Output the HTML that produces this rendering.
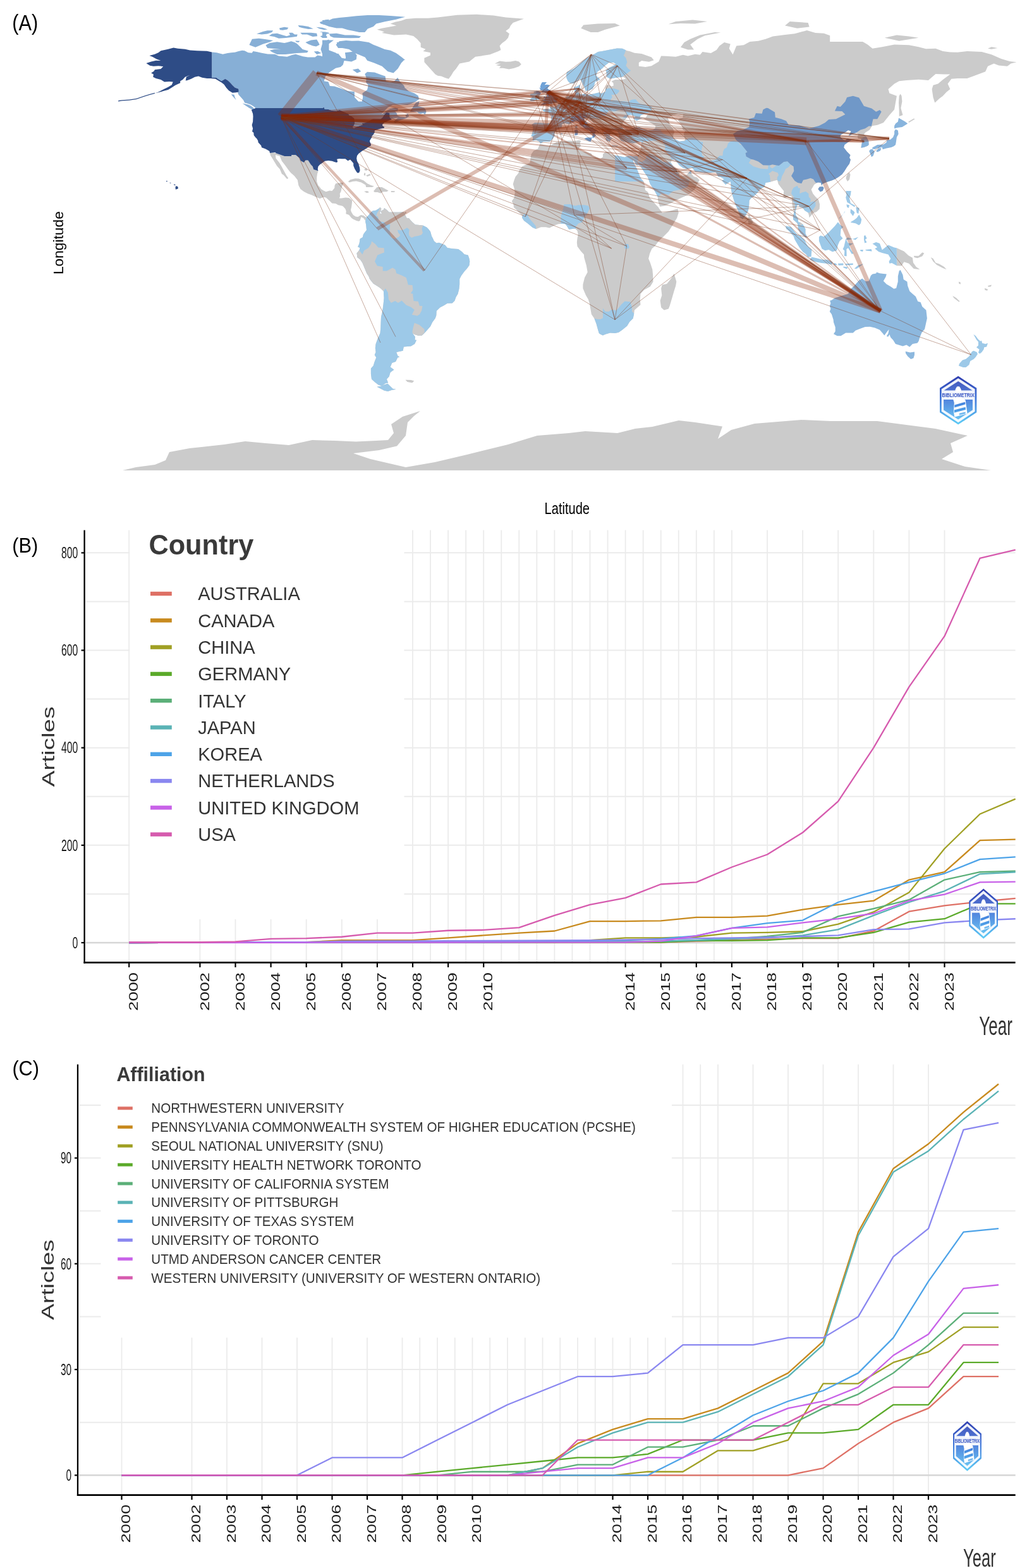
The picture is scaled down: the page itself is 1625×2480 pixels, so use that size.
<!DOCTYPE html><html><head><meta charset="utf-8"><style>html,body{margin:0;padding:0;background:#fff;overflow:hidden;width:1625px;height:2480px;}svg{display:block;}</style></head><body><svg width="1625" height="2480" viewBox="0 0 1625 2480" font-family="Liberation Sans, Arial, Helvetica, sans-serif">
<rect width="1625" height="2480" fill="#fff"/>
<g id="map">
<path d="M427.0,241.9 L428.2,246.2 L431.3,250.9 L433.2,254.3 L438.2,262.5 L442.8,267.6 L445.9,274.9 L448.9,277.0 L453.5,282.6 L454.7,283.0 L456.2,281.7 L453.2,277.5 L449.3,270.2 L445.1,262.5 L442.0,257.3 L436.6,250.4 L435.9,244.9 L442.8,247.0 L445.9,254.7 L451.2,261.6 L456.2,268.5 L460.1,273.2 L465.8,278.3 L470.8,284.7 L472.4,293.3 L475.4,298.9 L481.2,303.2 L487.0,306.2 L492.7,308.3 L500.4,311.8 L506.2,313.9 L512.0,311.8 L515.8,312.6 L521.6,317.8 L525.4,321.6 L531.2,322.0 L535.0,324.2 L540.8,325.5 L542.7,326.3 L546.5,330.6 L547.7,334.0 L547.3,338.3 L550.4,339.2 L552.3,340.0 L556.1,344.8 L558.5,346.5 L563.8,349.0 L567.7,349.9 L569.6,349.0 L571.5,343.0 L575.4,345.2 L578.1,349.0 L580.4,347.3 L579.6,343.9 L575.4,340.9 L571.1,340.0 L566.5,343.0 L562.7,342.6 L558.8,340.0 L555.8,334.9 L555.0,331.9 L556.1,327.6 L556.9,321.2 L557.3,316.9 L552.3,313.0 L546.5,312.6 L540.8,313.5 L536.9,313.5 L538.1,310.5 L537.7,306.2 L539.6,302.7 L540.8,296.3 L542.7,291.2 L543.5,289.0 L538.9,289.0 L531.2,290.3 L529.6,293.3 L529.2,297.6 L525.4,301.9 L521.6,301.5 L515.8,303.2 L512.0,301.5 L508.1,298.9 L506.2,296.3 L503.5,293.3 L501.2,286.9 L501.2,280.5 L502.0,274.9 L503.5,270.2 L496.2,268.0 L494.7,263.3 L491.6,259.9 L487.4,253.4 L483.5,253.4 L480.8,256.9 L475.8,254.3 L473.9,250.0 L467.8,244.9 L461.2,244.9 L461.2,247.0 L450.1,247.0 L435.9,241.9Z M709.9,124.8 L713.7,119.7 L717.6,113.3 L721.4,109.0 L727.2,100.4 L734.8,99.1 L742.5,97.4 L752.1,89.7 L761.8,88.4 L775.2,86.3 L788.7,81.1 L792.5,79.0 L790.6,72.5 L794.4,68.2 L800.2,64.0 L804.0,59.7 L805.9,53.2 L800.2,49.0 L805.9,44.7 L807.9,40.4 L811.7,36.1 L823.2,31.8 L829.0,29.7 L800.2,27.5 L781.0,24.5 L754.1,22.8 L723.3,23.7 L692.6,27.5 L677.2,28.8 L658.0,28.8 L642.6,30.1 L634.9,32.7 L625.3,34.8 L617.6,37.4 L627.2,40.4 L604.2,44.7 L596.5,46.8 L608.0,50.2 L604.2,52.0 L623.4,55.4 L642.6,54.5 L654.1,57.1 L659.9,61.8 L665.7,68.2 L665.7,74.7 L673.4,77.7 L669.5,81.1 L681.0,83.3 L681.0,87.5 L671.4,91.8 L671.4,98.3 L677.2,104.7 L681.0,109.0 L684.9,113.3 L688.7,117.5 L692.6,119.7 L698.3,120.6 L704.1,123.1Z M782.9,100.4 L790.6,96.5 L800.2,97.8 L807.9,97.4 L815.6,96.1 L821.3,97.4 L824.8,101.7 L821.3,105.1 L813.6,107.7 L805.2,109.4 L796.3,107.7 L789.8,107.7 L792.5,104.7 L784.8,103.0 L792.5,100.8Z M579.6,343.9 L583.1,340.5 L586.5,336.2 L589.6,333.6 L594.6,332.8 L599.6,329.8 L601.5,327.8 L603.4,330.6 L601.9,334.0 L600.7,337.5 L604.2,338.3 L602.3,334.0 L607.3,331.5 L608.0,328.9 L611.9,331.9 L615.7,335.8 L623.4,335.8 L631.1,335.8 L638.8,335.3 L640.7,339.2 L643.4,344.8 L647.2,345.6 L652.2,351.2 L657.2,355.5 L663.8,355.9 L669.5,356.8 L675.3,359.8 L678.7,363.2 L681.0,366.2 L683.0,373.5 L684.9,376.9 L686.8,381.2 L690.7,384.6 L694.5,383.8 L704.1,387.6 L707.9,391.9 L715.6,393.2 L725.2,394.1 L731.0,398.3 L734.8,402.2 L740.6,403.5 L742.5,409.1 L743.3,413.4 L742.5,419.8 L738.7,424.9 L734.8,429.2 L729.9,436.1 L727.2,441.2 L727.2,449.8 L726.4,457.1 L724.5,464.8 L721.4,469.9 L719.5,475.5 L715.6,479.4 L707.9,479.8 L702.2,483.2 L696.4,486.2 L690.7,491.8 L690.3,499.1 L688.7,503.4 L684.1,509.8 L681.0,516.2 L675.3,522.7 L671.4,527.0 L667.6,530.4 L661.8,530.8 L656.1,529.1 L652.6,527.0 L656.8,532.5 L656.5,537.7 L659.1,537.7 L656.1,544.1 L650.3,547.5 L638.8,548.4 L637.6,554.8 L627.2,557.0 L629.2,562.5 L632.2,564.7 L629.2,565.5 L626.1,572.0 L620.3,574.1 L617.6,580.5 L623.4,584.8 L617.6,589.1 L615.7,595.5 L611.9,599.8 L614.2,605.4 L610.0,606.3 L604.2,610.6 L598.4,608.4 L592.7,604.1 L588.0,599.8 L586.9,591.3 L586.9,582.7 L590.7,578.4 L592.7,572.0 L595.3,565.5 L592.7,561.3 L594.6,557.0 L593.8,550.5 L594.6,544.1 L597.7,535.5 L601.5,527.0 L602.3,518.4 L602.6,509.8 L603.0,501.2 L605.0,492.7 L606.5,481.9 L607.6,471.2 L606.9,460.5 L602.6,456.2 L598.4,453.2 L590.7,448.5 L585.0,441.2 L583.4,436.9 L580.4,432.6 L576.9,424.1 L573.4,415.5 L570.0,410.4 L565.4,406.9 L564.6,400.5 L568.4,395.8 L569.6,391.9 L566.1,390.6 L568.4,385.5 L569.2,381.2 L569.6,377.8 L573.8,375.2 L575.0,370.5 L578.1,366.2 L580.0,364.1 L579.2,355.5 L578.1,350.3Z M613.4,606.7 L621.5,614.8 L626.5,615.7 L619.6,617.0 L613.8,619.1 L608.0,617.8 L602.3,614.8 L596.5,611.8 L604.2,610.6 L608.0,608.4Z M641.5,600.7 L650.3,601.1 L655.3,602.4 L652.2,605.4 L644.5,604.1Z M550.8,287.3 L554.2,284.3 L561.9,282.2 L567.7,282.6 L575.4,285.6 L581.1,290.3 L586.9,292.9 L591.9,294.6 L588.8,295.9 L579.2,295.9 L578.4,292.5 L571.5,288.6 L563.8,286.5 L558.1,286.9 L553.1,288.6Z M591.1,302.3 L596.5,295.9 L604.2,295.9 L610.0,298.9 L614.6,301.5 L611.9,303.2 L606.1,303.2 L602.3,305.7 L597.3,304.0 L592.7,304.0Z M576.1,302.7 L581.1,301.9 L584.2,304.0 L580.4,305.3Z M618.8,301.9 L624.9,302.3 L624.2,304.0 L618.8,304.0Z M577.3,266.3 L581.1,267.2 L580.4,270.2 L576.5,268.9Z M576.5,273.2 L578.4,274.0 L577.7,278.3 L575.7,276.6Z M579.2,277.5 L585.0,274.9 L586.9,277.0 L581.1,279.2Z M640.7,334.9 L643.0,334.9 L642.6,337.9 L639.2,337.9Z" fill="#CBCBCB" />
<path d="M335.2,82.6 L342.9,83.3 L352.5,85.8 L360.2,84.1 L365.9,83.3 L371.7,82.8 L377.5,81.1 L383.2,79.8 L387.1,80.3 L392.8,83.3 L398.6,83.7 L400.5,81.1 L406.3,82.0 L414.0,83.7 L423.6,85.4 L435.1,85.8 L440.9,88.4 L454.3,89.7 L462.0,87.1 L467.8,85.8 L473.5,87.5 L479.3,89.3 L487.0,90.5 L498.5,90.5 L502.3,87.5 L508.1,88.4 L510.0,89.3 L515.8,86.3 L513.9,79.0 L508.9,73.4 L513.9,72.5 L519.6,76.8 L521.6,81.1 L525.4,83.3 L529.2,87.5 L535.0,84.5 L540.8,91.8 L546.5,92.7 L550.4,83.3 L560.0,83.3 L564.6,87.1 L563.8,94.0 L556.1,97.4 L544.6,96.1 L542.7,102.5 L538.9,106.0 L531.2,107.7 L521.6,114.1 L515.0,120.6 L512.7,128.3 L519.6,129.6 L521.9,136.0 L529.2,136.4 L538.9,139.8 L550.4,144.1 L560.8,145.0 L561.1,154.0 L567.3,160.4 L572.7,160.4 L574.2,154.0 L573.4,147.6 L581.1,142.0 L582.7,134.7 L579.2,130.4 L579.6,123.1 L577.3,117.1 L581.1,113.7 L592.7,114.5 L604.2,118.8 L609.6,120.6 L610.7,128.3 L615.7,130.0 L623.4,129.1 L629.2,122.7 L633.0,129.6 L638.8,134.7 L640.7,139.0 L646.5,144.1 L655.7,147.6 L661.8,151.4 L663.0,157.0 L657.6,160.8 L650.3,164.3 L644.5,166.0 L634.9,165.6 L621.5,166.0 L613.8,169.9 L609.2,174.6 L603.4,180.6 L606.9,178.9 L611.9,175.0 L617.6,172.0 L625.3,170.3 L629.9,171.6 L629.2,175.4 L625.3,176.3 L628.0,179.7 L628.8,182.7 L633.0,184.4 L638.8,184.9 L642.6,185.7 L641.5,181.9 L645.3,179.7 L647.2,184.0 L642.6,187.0 L636.9,189.1 L631.1,190.9 L625.3,194.7 L623.0,192.6 L627.2,188.3 L629.9,186.6 L625.3,187.0 L621.5,187.4 L619.2,187.9 L616.5,185.3 L616.5,179.3 L614.6,178.2 L611.1,177.8 L607.3,182.3 L605.7,185.3 L603.8,187.0 L602.3,188.3 L590.0,188.3 L587.7,189.1 L583.4,191.7 L577.3,194.3 L572.7,195.1 L573.8,197.3 L570.4,198.6 L565.0,200.3 L560.0,202.4 L557.7,200.7 L560.0,198.6 L561.5,194.3 L560.4,187.0 L555.8,183.6 L553.8,183.1 L552.3,181.9 L551.2,180.1 L537.3,174.1 L532.7,175.4 L525.4,175.0 L519.6,172.9 L513.5,172.4 L512.7,169.9 L511.4,169.5 L511.2,171.1 L404.4,171.1 L403.6,169.9 L400.5,167.7 L396.7,165.6 L390.9,163.4 L387.1,162.6 L385.1,158.3 L381.3,154.0 L377.5,149.7 L376.3,146.7 L377.5,141.6 L377.5,140.7 L371.7,138.6 L367.8,134.7 L364.0,130.4 L360.2,127.0 L356.3,124.8 L350.5,128.3 L344.8,124.8 L342.1,122.7 L335.2,122.7Z M403.2,174.1 L398.6,172.9 L394.7,171.1 L389.0,167.3 L383.6,163.4 L387.1,164.3 L392.8,165.6 L396.7,167.3 L400.5,169.9Z M373.6,158.3 L367.8,151.8 L365.9,149.3 L370.5,149.7 L371.7,154.0Z M648.8,177.1 L650.3,173.3 L652.6,170.7 L654.5,167.3 L658.0,162.6 L663.4,160.0 L662.6,164.7 L661.1,167.7 L665.7,169.0 L671.4,170.7 L673.4,173.3 L674.5,177.1 L672.6,181.0 L669.5,178.9 L665.7,180.1 L662.6,179.3 L659.9,176.7 L654.1,177.1Z M394.4,71.1 L398.9,61.7 L409.6,60.8 L419.5,62.1 L432.1,63.9 L426.7,66.6 L415.9,69.8 L409.6,72.5 L404.2,74.7 L398.0,72.5Z M420.4,71.6 L426.7,68.0 L438.4,66.2 L450.0,68.0 L454.5,67.1 L460.8,65.3 L466.2,67.1 L469.8,68.9 L475.2,74.3 L478.8,77.9 L487.8,80.6 L486.0,83.2 L469.8,84.1 L460.8,85.0 L451.8,85.9 L438.4,85.9 L430.3,82.3 L426.7,79.7 L433.9,77.9 L444.7,78.3 L433.9,77.0 L423.1,76.1Z M406.0,53.6 L415.9,50.0 L423.1,48.2 L432.1,48.2 L430.3,50.9 L423.1,53.6 L414.1,54.5Z M425.8,56.8 L430.3,53.6 L438.4,52.7 L447.3,55.4 L453.6,57.2 L459.0,55.4 L457.2,51.8 L462.6,51.8 L466.2,54.5 L470.7,54.5 L469.8,57.7 L460.8,59.0 L451.8,59.9 L441.1,60.8 L433.9,58.1Z M442.0,44.6 L450.0,42.8 L456.3,43.7 L454.5,46.4 L447.3,47.8 L442.9,47.3Z M471.6,40.1 L478.8,40.6 L487.8,41.9 L495.8,45.5 L487.8,46.0 L478.8,44.2 L473.4,42.8Z M475.2,51.8 L483.3,51.8 L492.2,51.8 L501.2,52.7 L502.1,57.2 L494.9,58.1 L486.0,54.5 L477.9,54.5Z M483.3,67.1 L492.2,63.5 L501.2,62.6 L503.9,67.1 L505.7,70.7 L500.3,73.4 L494.9,72.5 L487.8,69.8Z M500.3,42.8 L510.2,43.7 L518.3,46.4 L512.9,47.3 L505.7,45.5Z M505.7,50.0 L514.7,50.5 L520.5,51.8 L520.5,53.6 L512.9,52.7Z M506.6,57.2 L512.9,55.4 L517.4,57.2 L517.4,59.9 L510.2,59.9Z M505.7,35.2 L514.7,31.2 L520.5,30.7 L520.5,39.2 L512.9,39.2 L507.5,37.4Z M507.5,77.9 L511.1,65.3 L520.5,62.6 L520.5,86.8 L510.2,85.9Z M467.1,64.4 L474.3,64.8 L472.5,67.1 L468.9,66.6Z M496.7,81.5 L503.0,81.0 L508.4,84.1 L501.2,85.9Z M526.2,29.4 L536.9,28.0 L550.4,26.7 L563.9,25.3 L581.8,24.0 L599.8,24.0 L617.8,24.9 L641.1,26.7 L626.7,30.7 L608.8,34.3 L595.3,37.4 L590.8,41.9 L581.8,45.5 L577.3,50.9 L568.4,50.9 L559.4,49.1 L550.4,47.3 L541.4,44.6 L532.4,44.6 L520.8,41.9 L513.6,39.2 L510.0,34.8 L510.0,32.1 L515.4,31.6 L520.8,32.1Z M520.8,53.6 L532.4,52.7 L545.9,55.4 L559.4,55.4 L571.1,57.2 L568.4,59.9 L554.9,60.3 L541.4,59.9 L528.0,59.5 L522.6,57.2Z M510.0,50.9 L517.2,52.7 L515.4,58.1 L510.0,59.0Z M531.6,70.7 L536.9,65.3 L547.7,63.9 L556.7,64.8 L567.5,64.4 L583.6,67.1 L590.8,70.7 L599.8,74.3 L608.8,77.9 L617.8,79.7 L626.7,84.1 L635.7,90.4 L641.1,95.0 L599.8,95.0 L595.3,90.4 L586.3,86.8 L572.9,79.7 L560.3,77.9 L550.4,77.0 L544.1,76.1 L535.1,76.1Z M510.0,63.5 L528.0,63.5 L520.8,68.9 L515.4,72.5 L510.0,72.5Z M510.0,76.1 L523.5,80.6 L530.7,83.2 L536.9,86.8 L539.6,95.0 L510.0,95.0Z M545.9,83.2 L560.3,81.5 L563.9,86.8 L560.3,95.0 L547.7,95.0Z M580.0,87.7 L587.2,86.8 L588.1,91.3 L580.9,92.2Z M532.7,67.1 L547.0,64.4 L559.6,65.3 L568.6,68.9 L586.5,72.5 L604.5,77.9 L618.9,83.2 L640.4,94.0 L635.0,99.4 L629.6,108.4 L622.5,115.6 L613.5,112.9 L604.5,104.8 L591.9,99.4 L581.1,95.8 L577.6,90.4 L568.6,86.8 L559.6,83.2 L552.4,77.9 L541.6,76.1 L534.5,72.5Z M557.8,110.2 L566.8,108.4 L571.3,112.9 L565.0,115.6Z" fill="#87AFD6" />
<path d="M579.6,343.9 L583.1,340.5 L586.5,336.2 L589.6,333.6 L594.6,332.8 L599.6,329.8 L601.5,327.8 L603.4,330.6 L601.9,334.0 L600.7,337.5 L604.2,338.3 L602.3,334.0 L607.3,331.5 L608.0,328.9 L611.9,331.9 L615.7,335.8 L623.4,335.8 L631.1,335.8 L638.8,335.3 L640.7,339.2 L643.4,344.8 L647.2,345.6 L652.2,351.2 L657.2,355.5 L663.8,355.9 L669.5,356.8 L675.3,359.8 L678.7,363.2 L681.0,366.2 L683.0,373.5 L684.9,376.9 L686.8,381.2 L690.7,384.6 L694.5,383.8 L704.1,387.6 L707.9,391.9 L715.6,393.2 L725.2,394.1 L731.0,398.3 L734.8,402.2 L740.6,403.5 L742.5,409.1 L743.3,413.4 L742.5,419.8 L738.7,424.9 L734.8,429.2 L729.9,436.1 L727.2,441.2 L727.2,449.8 L726.4,457.1 L724.5,464.8 L721.4,469.9 L719.5,475.5 L715.6,479.4 L707.9,479.8 L702.2,483.2 L696.4,486.2 L690.7,491.8 L690.3,499.1 L688.7,503.4 L684.1,509.8 L681.0,516.2 L675.3,522.7 L671.4,527.0 L667.6,530.4 L661.8,530.8 L656.1,529.1 L652.6,527.0 L656.8,532.5 L656.5,537.7 L659.1,537.7 L656.1,544.1 L650.3,547.5 L638.8,548.4 L637.6,554.8 L627.2,557.0 L629.2,562.5 L632.2,564.7 L629.2,565.5 L626.1,572.0 L620.3,574.1 L617.6,580.5 L623.4,584.8 L617.6,589.1 L615.7,595.5 L611.9,599.8 L614.2,605.4 L610.0,606.3 L604.2,610.6 L598.4,608.4 L592.7,604.1 L588.0,599.8 L586.9,591.3 L586.9,582.7 L590.7,578.4 L592.7,572.0 L595.3,565.5 L592.7,561.3 L594.6,557.0 L593.8,550.5 L594.6,544.1 L597.7,535.5 L601.5,527.0 L602.3,518.4 L602.6,509.8 L603.0,501.2 L605.0,492.7 L606.5,481.9 L607.6,471.2 L606.9,460.5 L602.6,456.2 L598.4,453.2 L590.7,448.5 L585.0,441.2 L583.4,436.9 L580.4,432.6 L576.9,424.1 L573.4,415.5 L570.0,410.4 L565.4,406.9 L564.6,400.5 L568.4,395.8 L569.6,391.9 L566.1,390.6 L568.4,385.5 L569.2,381.2 L569.6,377.8 L573.8,375.2 L575.0,370.5 L578.1,366.2 L580.0,364.1 L579.2,355.5 L578.1,350.3Z M613.4,606.7 L621.5,614.8 L626.5,615.7 L619.6,617.0 L613.8,619.1 L608.0,617.8 L602.3,614.8 L596.5,611.8 L604.2,610.6 L608.0,608.4Z" fill="#9DC9E8" />
<path d="M601.5,327.8 L603.4,330.6 L601.9,334.0 L600.7,337.5 L604.2,338.3 L602.3,334.0 L607.3,331.5 L608.0,328.9 L611.9,331.9 L615.7,335.8 L623.4,335.8 L631.1,335.8 L638.8,335.3 L640.7,339.2 L643.4,344.8 L647.2,345.6 L652.2,351.2 L657.2,355.5 L663.8,355.9 L669.5,356.8 L667.6,361.9 L669.1,368.3 L667.2,371.3 L661.8,373.1 L656.1,373.9 L651.1,376.1 L647.6,373.1 L646.8,369.2 L647.6,363.2 L644.2,360.2 L638.8,363.2 L633.4,364.5 L628.8,363.6 L630.3,368.3 L633.4,371.8 L631.1,374.8 L625.3,377.8 L619.9,376.1 L618.0,371.8 L616.5,366.2 L617.3,354.6 L611.1,355.0 L607.6,351.2 L601.1,350.3 L598.8,349.0 L598.8,345.6 L597.3,341.8 L595.3,341.8 L596.9,336.6 L599.2,333.6Z M564.6,400.5 L568.4,395.8 L573.4,402.6 L576.1,396.2 L583.1,391.9 L587.3,385.5 L588.0,381.6 L594.2,386.3 L598.4,391.5 L607.6,392.3 L608.0,399.2 L597.3,403.5 L593.0,413.4 L596.9,420.6 L605.7,421.9 L605.7,428.4 L611.9,428.4 L613.4,435.2 L610.7,445.1 L611.9,448.9 L610.0,456.2 L606.9,460.5 L602.6,456.2 L598.4,453.2 L590.7,448.5 L585.0,441.2 L583.4,436.9 L580.4,432.6 L576.9,424.1 L573.4,415.5 L570.0,410.4 L565.4,406.9Z M611.9,428.4 L613.4,435.2 L610.7,445.1 L611.9,448.9 L610.0,456.2 L613.8,462.7 L614.9,473.4 L618.8,478.9 L625.3,475.9 L629.9,478.9 L635.7,475.5 L637.6,469.1 L639.9,465.2 L649.9,463.9 L653.4,458.4 L652.6,451.1 L645.7,450.6 L644.5,445.1 L642.6,439.1 L634.9,435.2 L627.2,432.2 L625.7,426.2 L621.1,423.6 L615.7,426.6Z M637.6,469.1 L635.7,475.5 L642.6,482.4 L650.3,485.8 L655.7,490.1 L651.8,497.8 L660.3,499.5 L664.1,496.9 L667.2,490.9 L668.4,484.1 L663.8,483.7 L661.8,476.8 L654.5,475.9 L653.4,467.8 L653.4,464.8 L649.9,463.9 L639.9,465.2Z M652.6,527.0 L656.1,529.1 L661.8,530.8 L667.6,530.4 L671.8,525.7 L671.4,520.5 L663.4,513.7 L655.7,510.7 L653.8,518.0 L652.6,523.5Z" fill="#CBCBCB" />
<path d="M669.5,356.8 L675.3,359.8 L678.7,363.2 L676.1,367.5 L672.2,371.3 L669.1,372.2 L667.2,371.3 L669.1,368.3 L667.6,361.9Z" fill="#9DC9E8" />
<path d="M397.8,173.7 L404.4,171.1 L511.2,171.1 L511.4,169.5 L512.7,169.9 L513.5,172.4 L519.6,172.9 L525.4,175.0 L532.7,175.4 L537.3,174.1 L551.2,180.1 L552.3,181.9 L553.8,183.1 L555.8,183.6 L560.4,187.0 L561.5,194.3 L560.0,198.6 L557.7,200.7 L560.0,202.4 L565.0,200.3 L570.4,198.6 L573.8,197.3 L572.7,195.1 L577.3,194.3 L583.4,191.7 L587.7,189.1 L590.0,188.3 L602.3,188.3 L603.8,187.0 L605.7,185.3 L607.3,182.3 L611.1,177.8 L614.6,178.2 L616.5,179.3 L616.5,185.3 L619.2,187.9 L619.6,189.1 L613.8,191.3 L608.8,193.4 L605.3,196.4 L605.0,198.6 L608.0,201.1 L608.0,202.4 L604.2,203.3 L600.3,204.1 L593.8,205.9 L592.7,207.1 L592.7,209.7 L590.7,212.7 L589.2,214.4 L588.4,214.9 L588.4,217.0 L586.5,220.0 L585.0,222.6 L585.4,224.7 L586.9,227.7 L586.9,230.3 L583.1,232.4 L577.7,235.9 L572.7,238.9 L567.7,242.7 L565.0,246.2 L564.2,250.4 L565.0,254.7 L567.3,259.0 L569.2,265.5 L569.6,269.7 L568.1,273.2 L565.4,273.6 L563.1,270.2 L561.1,266.7 L559.2,262.0 L559.2,258.2 L556.9,255.6 L554.2,252.6 L550.4,254.3 L546.5,251.3 L540.8,251.3 L536.9,250.9 L533.1,251.7 L534.2,255.6 L533.1,256.9 L530.4,256.4 L525.4,254.7 L519.6,253.9 L513.9,254.7 L510.0,257.7 L506.2,260.3 L503.5,263.3 L502.7,267.6 L503.5,270.2 L496.2,268.0 L494.7,263.3 L491.6,259.9 L487.4,253.4 L483.5,253.4 L480.8,256.9 L475.8,254.3 L473.9,250.0 L467.8,244.9 L461.2,244.9 L461.2,247.0 L450.1,247.0 L435.9,241.9 L436.2,241.0 L427.0,241.9 L426.3,238.9 L422.4,236.7 L420.1,235.4 L414.0,233.3 L413.2,230.3 L408.6,225.2 L408.2,222.6 L406.3,219.2 L404.4,217.4 L401.7,214.0 L401.3,209.7 L399.0,208.0 L400.1,203.3 L398.6,197.7 L400.1,192.6 L400.5,184.0 L400.1,179.7Z M335.2,82.6 L335.2,122.7 L342.1,122.7 L344.8,124.8 L350.5,128.3 L356.3,124.8 L360.2,127.0 L364.0,130.4 L367.8,134.7 L371.7,138.6 L377.5,140.7 L377.5,145.4 L373.6,146.3 L367.8,146.7 L362.1,143.3 L358.2,139.0 L354.4,133.4 L350.5,130.4 L340.9,124.8 L333.3,124.0 L327.5,124.0 L319.8,122.7 L314.0,120.6 L308.3,121.8 L302.5,124.8 L296.7,127.0 L293.7,127.4 L294.8,121.8 L300.6,118.8 L292.9,121.8 L289.1,126.1 L285.2,128.3 L285.2,131.3 L277.5,134.7 L271.8,138.6 L266.0,142.0 L258.3,144.1 L252.6,145.8 L244.9,147.6 L250.6,145.4 L258.3,141.6 L266.0,137.7 L271.8,134.3 L273.7,129.6 L267.9,129.1 L260.2,129.6 L254.5,126.1 L246.8,124.0 L242.2,121.8 L242.9,117.5 L239.1,115.4 L243.7,112.4 L244.9,110.3 L254.5,109.0 L258.3,105.1 L250.6,104.3 L242.9,104.7 L237.2,103.8 L231.4,100.0 L239.1,97.4 L246.8,95.7 L254.5,96.1 L247.9,93.5 L241.0,89.7 L236.4,88.0 L244.9,85.8 L250.6,83.3 L254.5,80.3 L266.0,77.7 L274.5,75.5 L281.4,76.8 L292.9,77.7 L300.6,79.4 L312.1,80.3 L327.5,80.7Z M244.9,148.0 L237.2,150.1 L227.6,153.1 L216.0,157.0 L204.5,158.7 L193.0,159.6 L187.2,160.4 L187.2,159.1 L193.0,158.3 L204.5,157.4 L216.0,155.7 L227.6,151.8 L237.2,148.8 L244.9,146.7Z M277.9,299.7 L281.4,298.5 L282.1,297.2 L280.6,294.6 L277.9,294.6 L277.5,296.7Z M274.8,291.6 L277.5,292.0 L277.5,292.9 L275.6,292.9Z M268.7,288.6 L271.0,289.9 L269.8,290.1 L268.7,289.5Z M262.9,286.0 L264.9,286.0 L264.5,287.3 L263.3,287.3Z" fill="#2E4C86" />
<defs>
<clipPath id="clipEA"><path d="M855.5,226.9 L852.8,223.4 L848.6,221.7 L842.8,222.6 L843.2,216.2 L840.5,215.3 L842.5,209.7 L843.6,203.3 L842.8,199.0 L841.3,196.9 L846.3,193.9 L854.0,194.3 L861.7,195.1 L870.1,195.1 L872.0,190.4 L872.4,184.0 L868.6,179.3 L859.7,175.9 L859.0,173.3 L865.5,172.0 L870.9,172.4 L870.1,168.1 L873.2,169.4 L877.8,169.0 L882.8,166.0 L883.2,163.0 L886.6,162.1 L890.9,160.8 L894.3,157.0 L895.5,154.0 L898.2,152.3 L903.9,151.8 L909.7,151.0 L910.1,147.6 L908.9,143.3 L908.2,138.1 L913.5,136.4 L917.4,133.8 L917.4,139.0 L918.9,139.8 L916.2,143.3 L914.3,145.4 L917.4,148.0 L919.3,149.7 L925.1,148.0 L930.8,149.7 L938.5,148.4 L948.1,146.3 L952.0,148.0 L958.5,144.6 L957.7,139.0 L959.7,134.7 L963.5,134.3 L967.4,136.8 L970.8,135.6 L970.4,131.3 L967.4,128.7 L973.1,126.1 L984.6,126.1 L990.4,124.4 L986.6,121.8 L978.9,122.3 L965.4,124.4 L959.7,121.4 L959.7,115.4 L958.5,111.1 L963.5,107.3 L971.2,103.4 L974.7,101.7 L971.2,99.1 L963.5,99.1 L957.7,103.4 L952.0,109.0 L945.4,113.3 L943.1,119.7 L948.1,124.0 L949.3,126.1 L941.6,129.6 L940.4,134.7 L937.8,140.3 L932.0,143.3 L926.6,143.7 L925.1,139.0 L922.4,133.8 L920.1,128.7 L917.8,124.8 L913.5,128.3 L907.8,132.1 L902.0,131.7 L898.6,128.3 L896.3,123.1 L896.3,117.5 L897.0,114.1 L902.0,111.5 L907.8,108.5 L912.4,105.1 L917.4,100.8 L923.2,95.7 L928.9,91.4 L934.7,88.0 L940.4,85.4 L946.2,82.0 L953.9,80.7 L965.4,78.5 L976.2,76.4 L984.6,76.8 L992.3,80.3 L996.2,81.1 L1003.9,83.7 L1015.4,85.0 L1030.8,90.5 L1034.6,95.3 L1026.9,97.8 L1015.4,96.1 L1010.8,99.1 L1010.8,104.7 L1021.2,106.0 L1030.8,104.3 L1042.3,97.4 L1046.1,88.4 L1053.8,88.8 L1069.2,89.7 L1080.7,86.7 L1088.4,88.4 L1099.9,85.8 L1107.6,86.7 L1111.5,82.0 L1124.9,84.1 L1133.8,79.0 L1138.4,72.5 L1146.0,67.0 L1155.7,69.5 L1153.7,76.8 L1159.5,86.3 L1165.3,72.5 L1176.8,71.2 L1186.4,66.1 L1199.9,64.8 L1211.4,61.8 L1222.9,57.5 L1242.1,55.0 L1257.5,53.2 L1276.7,48.1 L1290.2,52.0 L1303.6,52.8 L1313.2,56.2 L1313.2,66.1 L1330.5,66.1 L1349.7,66.1 L1365.1,66.1 L1372.8,70.4 L1380.5,76.8 L1395.8,74.3 L1415.1,70.4 L1438.1,71.2 L1453.5,74.3 L1465.0,77.3 L1480.4,76.8 L1491.9,81.1 L1503.4,82.4 L1515.0,82.8 L1530.3,81.1 L1553.4,82.0 L1568.8,86.3 L1584.2,93.1 L1597.6,97.0 L1608.4,98.3 L1599.5,100.4 L1593.8,104.7 L1580.3,103.4 L1572.6,100.4 L1563.0,104.7 L1559.2,113.3 L1541.9,119.7 L1530.3,124.0 L1515.0,124.0 L1505.4,124.8 L1499.6,132.6 L1503.4,141.1 L1497.7,145.4 L1491.9,151.8 L1486.2,156.1 L1479.2,162.6 L1476.5,154.0 L1474.6,141.1 L1476.5,134.7 L1484.2,132.6 L1491.9,126.1 L1503.4,117.5 L1493.8,117.5 L1480.4,117.1 L1468.9,127.0 L1453.5,125.7 L1434.3,127.0 L1422.7,128.3 L1415.1,132.6 L1405.5,141.1 L1407.4,147.6 L1418.9,151.8 L1417.0,162.6 L1415.1,173.3 L1407.4,181.9 L1397.8,193.9 L1388.2,197.7 L1380.5,199.0 L1379.3,199.9 L1375.9,205.4 L1368.9,209.7 L1367.0,212.7 L1370.9,216.2 L1374.3,222.6 L1374.7,229.0 L1372.8,230.7 L1367.0,232.9 L1362.4,233.7 L1363.2,229.0 L1364.3,223.4 L1362.0,219.6 L1358.2,219.2 L1356.6,216.2 L1358.6,211.9 L1354.7,210.1 L1349.7,211.4 L1342.8,214.9 L1345.1,210.6 L1346.7,207.6 L1342.0,205.9 L1336.3,210.1 L1330.5,213.1 L1329.4,216.6 L1333.6,220.4 L1337.4,221.7 L1340.9,219.2 L1347.8,220.9 L1342.0,224.7 L1336.3,229.0 L1335.1,233.3 L1340.1,239.7 L1345.5,245.3 L1344.0,249.2 L1345.9,252.6 L1344.0,259.0 L1340.1,264.2 L1336.3,270.6 L1332.4,275.7 L1326.7,280.0 L1320.9,283.5 L1315.9,285.6 L1311.3,286.9 L1305.5,289.0 L1300.9,291.2 L1300.5,294.2 L1298.6,289.0 L1294.0,288.6 L1288.2,292.0 L1286.3,295.5 L1283.6,299.7 L1286.3,306.2 L1290.2,310.9 L1295.2,316.0 L1297.1,323.3 L1296.7,330.6 L1292.1,334.9 L1286.7,337.0 L1280.6,344.3 L1279.8,340.0 L1278.6,336.2 L1272.9,332.8 L1270.2,328.9 L1264.8,326.8 L1263.3,323.3 L1261.0,325.5 L1258.6,334.0 L1259.4,340.5 L1262.5,345.6 L1263.3,351.2 L1267.1,352.0 L1270.2,354.6 L1274.4,361.9 L1274.4,369.2 L1277.5,375.2 L1274.8,375.6 L1270.9,372.6 L1266.3,368.8 L1262.9,361.9 L1262.5,355.5 L1260.2,352.0 L1255.2,347.3 L1254.8,341.3 L1256.3,336.2 L1253.7,325.5 L1252.5,310.5 L1247.9,310.0 L1242.1,313.5 L1239.4,311.8 L1240.2,301.9 L1236.4,297.6 L1231.7,291.2 L1229.8,284.7 L1224.8,286.0 L1219.1,287.7 L1211.4,289.0 L1209.5,295.5 L1203.7,298.5 L1199.9,303.2 L1193.3,310.0 L1188.3,313.5 L1185.6,316.9 L1185.2,325.5 L1183.7,334.0 L1181.8,337.0 L1178.7,342.6 L1174.9,346.5 L1171.0,343.0 L1168.3,334.0 L1164.5,325.5 L1161.4,316.9 L1158.7,308.3 L1156.8,299.7 L1156.4,291.2 L1155.7,286.9 L1148.0,292.0 L1142.2,285.6 L1146.0,283.5 L1140.3,280.0 L1136.4,279.2 L1132.6,272.3 L1124.9,273.2 L1115.3,273.6 L1107.6,272.3 L1099.9,271.5 L1096.1,266.3 L1093.4,265.0 L1086.5,267.2 L1080.7,265.5 L1075.0,261.6 L1070.3,255.6 L1067.3,252.6 L1063.4,252.6 L1061.5,256.9 L1065.3,263.3 L1070.0,267.6 L1072.3,271.9 L1073.8,269.3 L1075.3,273.2 L1075.0,277.0 L1080.7,277.9 L1086.5,276.6 L1092.2,270.6 L1093.4,268.5 L1093.8,274.5 L1098.0,279.2 L1102.6,280.5 L1106.9,284.7 L1101.9,293.3 L1099.2,299.7 L1094.2,304.0 L1088.4,308.3 L1078.8,312.6 L1069.2,316.9 L1061.5,321.2 L1051.9,325.5 L1044.2,326.8 L1041.5,319.0 L1040.4,310.5 L1034.6,299.7 L1028.8,291.2 L1025.0,280.5 L1019.2,271.9 L1013.5,263.3 L1010.0,260.7 L1011.2,254.7 L1008.5,247.0 L1009.6,245.7 L1011.5,240.6 L1013.5,235.4 L1014.6,229.0 L1015.4,224.7 L1016.2,224.3 L1011.5,223.9 L1007.7,225.6 L1001.9,226.4 L994.3,225.6 L988.5,224.3 L982.7,222.6 L978.9,216.6 L980.0,211.9 L977.7,209.7 L977.0,207.1 L973.1,205.9 L968.5,206.7 L965.0,207.1 L967.4,210.1 L964.7,212.7 L965.4,217.4 L969.3,218.3 L966.2,220.4 L965.0,224.7 L962.4,223.0 L960.4,223.4 L958.1,219.2 L959.7,217.0 L956.6,214.0 L953.9,210.6 L951.6,207.1 L952.0,201.6 L948.1,199.0 L942.4,195.6 L938.1,193.9 L934.7,190.0 L931.6,187.0 L929.3,187.4 L930.1,185.7 L924.3,186.6 L924.7,190.4 L929.3,194.7 L933.5,200.7 L938.5,201.6 L939.3,203.3 L944.3,206.3 L948.1,208.9 L943.1,207.6 L940.8,211.4 L942.8,214.4 L938.9,218.3 L937.4,217.4 L937.8,211.9 L934.7,208.9 L932.0,206.3 L927.0,204.6 L922.4,200.7 L917.4,196.9 L916.2,193.0 L910.9,190.9 L906.6,193.4 L903.9,194.7 L900.1,196.4 L894.3,195.1 L889.3,196.0 L889.0,199.4 L889.3,201.6 L880.9,205.4 L877.0,210.1 L877.8,214.9 L874.3,220.0 L869.4,223.9 L859.7,223.9Z"/></clipPath>
<clipPath id="clipAF"><path d="M854.4,227.7 L869.4,230.7 L880.9,224.7 L888.6,223.4 L900.1,222.6 L909.7,223.0 L916.2,221.7 L919.3,223.0 L917.4,226.9 L919.3,230.3 L916.2,234.2 L915.5,236.3 L921.2,239.3 L927.0,240.2 L935.5,242.7 L937.4,246.2 L944.3,248.7 L950.1,251.3 L953.9,248.3 L953.9,244.0 L957.7,240.6 L963.5,240.6 L966.2,243.2 L973.9,245.7 L980.8,247.0 L988.5,248.7 L994.3,246.2 L1001.2,247.0 L1008.5,247.0 L1011.2,254.7 L1010.0,260.7 L1008.9,261.6 L1005.8,259.9 L1002.3,253.0 L1001.6,254.3 L1003.9,259.9 L1007.7,266.7 L1011.5,276.2 L1014.2,282.6 L1018.5,286.9 L1020.4,293.3 L1020.8,300.6 L1025.4,304.0 L1028.1,313.0 L1032.7,317.8 L1037.3,323.3 L1041.5,327.6 L1043.4,330.6 L1048.1,336.6 L1053.8,335.3 L1061.5,333.2 L1072.3,330.2 L1073.8,336.2 L1071.1,344.8 L1063.4,357.6 L1057.7,366.2 L1050.0,373.9 L1042.3,381.2 L1036.5,388.9 L1031.5,393.2 L1028.1,400.9 L1026.1,409.1 L1028.8,415.5 L1032.3,426.2 L1033.1,434.8 L1033.5,445.5 L1028.8,453.2 L1019.2,458.4 L1013.5,464.8 L1012.7,473.4 L1013.5,481.9 L1003.9,490.5 L1003.1,496.9 L1001.6,503.8 L996.2,509.0 L992.3,515.4 L984.6,521.8 L978.9,525.7 L973.1,527.0 L965.4,526.5 L957.7,528.7 L953.9,530.5 L949.3,528.2 L947.8,527.0 L946.2,521.8 L943.5,512.0 L940.4,503.8 L935.8,496.9 L932.8,479.8 L930.8,473.4 L927.0,466.9 L922.4,456.2 L922.4,449.8 L925.1,439.1 L929.7,430.5 L927.8,419.8 L924.3,407.4 L923.9,402.6 L919.3,397.5 L913.5,389.8 L912.8,383.3 L913.5,376.9 L914.7,370.5 L913.5,364.9 L910.9,362.3 L908.9,361.5 L903.9,362.3 L900.1,362.8 L897.0,357.6 L894.3,354.2 L888.6,353.8 L882.8,354.6 L877.0,356.8 L869.4,360.6 L863.6,359.3 L855.9,359.3 L848.2,362.3 L842.5,359.8 L834.8,353.3 L829.0,349.0 L826.3,344.8 L825.9,340.5 L821.3,336.2 L817.5,331.9 L812.9,328.0 L812.5,323.3 L809.8,318.2 L813.6,312.6 L814.8,304.0 L813.6,297.6 L811.7,291.2 L813.6,284.7 L815.6,279.6 L820.2,274.0 L821.3,269.7 L826.3,263.3 L832.8,260.3 L838.6,256.9 L839.4,250.4 L840.5,244.0 L844.4,238.4 L850.9,235.4 L853.2,230.3Z"/></clipPath>
</defs>
<path d="M855.5,226.9 L852.8,223.4 L848.6,221.7 L842.8,222.6 L843.2,216.2 L840.5,215.3 L842.5,209.7 L843.6,203.3 L842.8,199.0 L841.3,196.9 L846.3,193.9 L854.0,194.3 L861.7,195.1 L870.1,195.1 L872.0,190.4 L872.4,184.0 L868.6,179.3 L859.7,175.9 L859.0,173.3 L865.5,172.0 L870.9,172.4 L870.1,168.1 L873.2,169.4 L877.8,169.0 L882.8,166.0 L883.2,163.0 L886.6,162.1 L890.9,160.8 L894.3,157.0 L895.5,154.0 L898.2,152.3 L903.9,151.8 L909.7,151.0 L910.1,147.6 L908.9,143.3 L908.2,138.1 L913.5,136.4 L917.4,133.8 L917.4,139.0 L918.9,139.8 L916.2,143.3 L914.3,145.4 L917.4,148.0 L919.3,149.7 L925.1,148.0 L930.8,149.7 L938.5,148.4 L948.1,146.3 L952.0,148.0 L958.5,144.6 L957.7,139.0 L959.7,134.7 L963.5,134.3 L967.4,136.8 L970.8,135.6 L970.4,131.3 L967.4,128.7 L973.1,126.1 L984.6,126.1 L990.4,124.4 L986.6,121.8 L978.9,122.3 L965.4,124.4 L959.7,121.4 L959.7,115.4 L958.5,111.1 L963.5,107.3 L971.2,103.4 L974.7,101.7 L971.2,99.1 L963.5,99.1 L957.7,103.4 L952.0,109.0 L945.4,113.3 L943.1,119.7 L948.1,124.0 L949.3,126.1 L941.6,129.6 L940.4,134.7 L937.8,140.3 L932.0,143.3 L926.6,143.7 L925.1,139.0 L922.4,133.8 L920.1,128.7 L917.8,124.8 L913.5,128.3 L907.8,132.1 L902.0,131.7 L898.6,128.3 L896.3,123.1 L896.3,117.5 L897.0,114.1 L902.0,111.5 L907.8,108.5 L912.4,105.1 L917.4,100.8 L923.2,95.7 L928.9,91.4 L934.7,88.0 L940.4,85.4 L946.2,82.0 L953.9,80.7 L965.4,78.5 L976.2,76.4 L984.6,76.8 L992.3,80.3 L996.2,81.1 L1003.9,83.7 L1015.4,85.0 L1030.8,90.5 L1034.6,95.3 L1026.9,97.8 L1015.4,96.1 L1010.8,99.1 L1010.8,104.7 L1021.2,106.0 L1030.8,104.3 L1042.3,97.4 L1046.1,88.4 L1053.8,88.8 L1069.2,89.7 L1080.7,86.7 L1088.4,88.4 L1099.9,85.8 L1107.6,86.7 L1111.5,82.0 L1124.9,84.1 L1133.8,79.0 L1138.4,72.5 L1146.0,67.0 L1155.7,69.5 L1153.7,76.8 L1159.5,86.3 L1165.3,72.5 L1176.8,71.2 L1186.4,66.1 L1199.9,64.8 L1211.4,61.8 L1222.9,57.5 L1242.1,55.0 L1257.5,53.2 L1276.7,48.1 L1290.2,52.0 L1303.6,52.8 L1313.2,56.2 L1313.2,66.1 L1330.5,66.1 L1349.7,66.1 L1365.1,66.1 L1372.8,70.4 L1380.5,76.8 L1395.8,74.3 L1415.1,70.4 L1438.1,71.2 L1453.5,74.3 L1465.0,77.3 L1480.4,76.8 L1491.9,81.1 L1503.4,82.4 L1515.0,82.8 L1530.3,81.1 L1553.4,82.0 L1568.8,86.3 L1584.2,93.1 L1597.6,97.0 L1608.4,98.3 L1599.5,100.4 L1593.8,104.7 L1580.3,103.4 L1572.6,100.4 L1563.0,104.7 L1559.2,113.3 L1541.9,119.7 L1530.3,124.0 L1515.0,124.0 L1505.4,124.8 L1499.6,132.6 L1503.4,141.1 L1497.7,145.4 L1491.9,151.8 L1486.2,156.1 L1479.2,162.6 L1476.5,154.0 L1474.6,141.1 L1476.5,134.7 L1484.2,132.6 L1491.9,126.1 L1503.4,117.5 L1493.8,117.5 L1480.4,117.1 L1468.9,127.0 L1453.5,125.7 L1434.3,127.0 L1422.7,128.3 L1415.1,132.6 L1405.5,141.1 L1407.4,147.6 L1418.9,151.8 L1417.0,162.6 L1415.1,173.3 L1407.4,181.9 L1397.8,193.9 L1388.2,197.7 L1380.5,199.0 L1379.3,199.9 L1375.9,205.4 L1368.9,209.7 L1367.0,212.7 L1370.9,216.2 L1374.3,222.6 L1374.7,229.0 L1372.8,230.7 L1367.0,232.9 L1362.4,233.7 L1363.2,229.0 L1364.3,223.4 L1362.0,219.6 L1358.2,219.2 L1356.6,216.2 L1358.6,211.9 L1354.7,210.1 L1349.7,211.4 L1342.8,214.9 L1345.1,210.6 L1346.7,207.6 L1342.0,205.9 L1336.3,210.1 L1330.5,213.1 L1329.4,216.6 L1333.6,220.4 L1337.4,221.7 L1340.9,219.2 L1347.8,220.9 L1342.0,224.7 L1336.3,229.0 L1335.1,233.3 L1340.1,239.7 L1345.5,245.3 L1344.0,249.2 L1345.9,252.6 L1344.0,259.0 L1340.1,264.2 L1336.3,270.6 L1332.4,275.7 L1326.7,280.0 L1320.9,283.5 L1315.9,285.6 L1311.3,286.9 L1305.5,289.0 L1300.9,291.2 L1300.5,294.2 L1298.6,289.0 L1294.0,288.6 L1288.2,292.0 L1286.3,295.5 L1283.6,299.7 L1286.3,306.2 L1290.2,310.9 L1295.2,316.0 L1297.1,323.3 L1296.7,330.6 L1292.1,334.9 L1286.7,337.0 L1280.6,344.3 L1279.8,340.0 L1278.6,336.2 L1272.9,332.8 L1270.2,328.9 L1264.8,326.8 L1263.3,323.3 L1261.0,325.5 L1258.6,334.0 L1259.4,340.5 L1262.5,345.6 L1263.3,351.2 L1267.1,352.0 L1270.2,354.6 L1274.4,361.9 L1274.4,369.2 L1277.5,375.2 L1274.8,375.6 L1270.9,372.6 L1266.3,368.8 L1262.9,361.9 L1262.5,355.5 L1260.2,352.0 L1255.2,347.3 L1254.8,341.3 L1256.3,336.2 L1253.7,325.5 L1252.5,310.5 L1247.9,310.0 L1242.1,313.5 L1239.4,311.8 L1240.2,301.9 L1236.4,297.6 L1231.7,291.2 L1229.8,284.7 L1224.8,286.0 L1219.1,287.7 L1211.4,289.0 L1209.5,295.5 L1203.7,298.5 L1199.9,303.2 L1193.3,310.0 L1188.3,313.5 L1185.6,316.9 L1185.2,325.5 L1183.7,334.0 L1181.8,337.0 L1178.7,342.6 L1174.9,346.5 L1171.0,343.0 L1168.3,334.0 L1164.5,325.5 L1161.4,316.9 L1158.7,308.3 L1156.8,299.7 L1156.4,291.2 L1155.7,286.9 L1148.0,292.0 L1142.2,285.6 L1146.0,283.5 L1140.3,280.0 L1136.4,279.2 L1132.6,272.3 L1124.9,273.2 L1115.3,273.6 L1107.6,272.3 L1099.9,271.5 L1096.1,266.3 L1093.4,265.0 L1086.5,267.2 L1080.7,265.5 L1075.0,261.6 L1070.3,255.6 L1067.3,252.6 L1063.4,252.6 L1061.5,256.9 L1065.3,263.3 L1070.0,267.6 L1072.3,271.9 L1073.8,269.3 L1075.3,273.2 L1075.0,277.0 L1080.7,277.9 L1086.5,276.6 L1092.2,270.6 L1093.4,268.5 L1093.8,274.5 L1098.0,279.2 L1102.6,280.5 L1106.9,284.7 L1101.9,293.3 L1099.2,299.7 L1094.2,304.0 L1088.4,308.3 L1078.8,312.6 L1069.2,316.9 L1061.5,321.2 L1051.9,325.5 L1044.2,326.8 L1041.5,319.0 L1040.4,310.5 L1034.6,299.7 L1028.8,291.2 L1025.0,280.5 L1019.2,271.9 L1013.5,263.3 L1010.0,260.7 L1011.2,254.7 L1008.5,247.0 L1009.6,245.7 L1011.5,240.6 L1013.5,235.4 L1014.6,229.0 L1015.4,224.7 L1016.2,224.3 L1011.5,223.9 L1007.7,225.6 L1001.9,226.4 L994.3,225.6 L988.5,224.3 L982.7,222.6 L978.9,216.6 L980.0,211.9 L977.7,209.7 L977.0,207.1 L973.1,205.9 L968.5,206.7 L965.0,207.1 L967.4,210.1 L964.7,212.7 L965.4,217.4 L969.3,218.3 L966.2,220.4 L965.0,224.7 L962.4,223.0 L960.4,223.4 L958.1,219.2 L959.7,217.0 L956.6,214.0 L953.9,210.6 L951.6,207.1 L952.0,201.6 L948.1,199.0 L942.4,195.6 L938.1,193.9 L934.7,190.0 L931.6,187.0 L929.3,187.4 L930.1,185.7 L924.3,186.6 L924.7,190.4 L929.3,194.7 L933.5,200.7 L938.5,201.6 L939.3,203.3 L944.3,206.3 L948.1,208.9 L943.1,207.6 L940.8,211.4 L942.8,214.4 L938.9,218.3 L937.4,217.4 L937.8,211.9 L934.7,208.9 L932.0,206.3 L927.0,204.6 L922.4,200.7 L917.4,196.9 L916.2,193.0 L910.9,190.9 L906.6,193.4 L903.9,194.7 L900.1,196.4 L894.3,195.1 L889.3,196.0 L889.0,199.4 L889.3,201.6 L880.9,205.4 L877.0,210.1 L877.8,214.9 L874.3,220.0 L869.4,223.9 L859.7,223.9Z M854.4,227.7 L869.4,230.7 L880.9,224.7 L888.6,223.4 L900.1,222.6 L909.7,223.0 L916.2,221.7 L919.3,223.0 L917.4,226.9 L919.3,230.3 L916.2,234.2 L915.5,236.3 L921.2,239.3 L927.0,240.2 L935.5,242.7 L937.4,246.2 L944.3,248.7 L950.1,251.3 L953.9,248.3 L953.9,244.0 L957.7,240.6 L963.5,240.6 L966.2,243.2 L973.9,245.7 L980.8,247.0 L988.5,248.7 L994.3,246.2 L1001.2,247.0 L1008.5,247.0 L1011.2,254.7 L1010.0,260.7 L1008.9,261.6 L1005.8,259.9 L1002.3,253.0 L1001.6,254.3 L1003.9,259.9 L1007.7,266.7 L1011.5,276.2 L1014.2,282.6 L1018.5,286.9 L1020.4,293.3 L1020.8,300.6 L1025.4,304.0 L1028.1,313.0 L1032.7,317.8 L1037.3,323.3 L1041.5,327.6 L1043.4,330.6 L1048.1,336.6 L1053.8,335.3 L1061.5,333.2 L1072.3,330.2 L1073.8,336.2 L1071.1,344.8 L1063.4,357.6 L1057.7,366.2 L1050.0,373.9 L1042.3,381.2 L1036.5,388.9 L1031.5,393.2 L1028.1,400.9 L1026.1,409.1 L1028.8,415.5 L1032.3,426.2 L1033.1,434.8 L1033.5,445.5 L1028.8,453.2 L1019.2,458.4 L1013.5,464.8 L1012.7,473.4 L1013.5,481.9 L1003.9,490.5 L1003.1,496.9 L1001.6,503.8 L996.2,509.0 L992.3,515.4 L984.6,521.8 L978.9,525.7 L973.1,527.0 L965.4,526.5 L957.7,528.7 L953.9,530.5 L949.3,528.2 L947.8,527.0 L946.2,521.8 L943.5,512.0 L940.4,503.8 L935.8,496.9 L932.8,479.8 L930.8,473.4 L927.0,466.9 L922.4,456.2 L922.4,449.8 L925.1,439.1 L929.7,430.5 L927.8,419.8 L924.3,407.4 L923.9,402.6 L919.3,397.5 L913.5,389.8 L912.8,383.3 L913.5,376.9 L914.7,370.5 L913.5,364.9 L910.9,362.3 L908.9,361.5 L903.9,362.3 L900.1,362.8 L897.0,357.6 L894.3,354.2 L888.6,353.8 L882.8,354.6 L877.0,356.8 L869.4,360.6 L863.6,359.3 L855.9,359.3 L848.2,362.3 L842.5,359.8 L834.8,353.3 L829.0,349.0 L826.3,344.8 L825.9,340.5 L821.3,336.2 L817.5,331.9 L812.9,328.0 L812.5,323.3 L809.8,318.2 L813.6,312.6 L814.8,304.0 L813.6,297.6 L811.7,291.2 L813.6,284.7 L815.6,279.6 L820.2,274.0 L821.3,269.7 L826.3,263.3 L832.8,260.3 L838.6,256.9 L839.4,250.4 L840.5,244.0 L844.4,238.4 L850.9,235.4 L853.2,230.3Z M1066.5,432.6 L1070.3,445.5 L1069.2,451.9 L1066.5,460.5 L1063.4,471.2 L1059.6,484.1 L1057.7,488.4 L1050.7,490.5 L1046.1,486.2 L1044.6,475.5 L1047.3,466.9 L1046.1,456.2 L1047.7,450.6 L1055.0,448.9 L1059.6,443.4 L1063.4,438.6Z M1076.9,74.7 L1088.4,78.5 L1098.0,78.5 L1092.2,70.4 L1103.8,61.8 L1115.3,56.2 L1140.3,51.5 L1130.7,51.1 L1107.6,55.4 L1092.2,61.8 L1082.6,67.0Z M919.3,44.7 L934.7,51.1 L946.2,51.1 L957.7,46.8 L980.8,40.4 L973.1,37.0 L946.2,37.4 L923.2,39.5Z M1057.7,38.2 L1076.9,37.0 L1099.9,37.4 L1119.1,34.0 L1096.1,31.4 L1069.2,34.0Z M1242.1,40.4 L1261.3,44.7 L1280.6,42.5 L1278.6,36.1 L1249.8,34.0Z M1399.7,59.7 L1422.7,64.8 L1453.5,59.7 L1438.1,57.5 L1418.9,55.4Z M1563.0,76.8 L1568.8,74.3 L1578.4,76.0 L1568.8,77.7Z M1422.7,184.0 L1428.5,181.9 L1425.4,171.1 L1427.4,160.4 L1426.6,151.8 L1424.7,148.4 L1422.7,151.8 L1422.0,162.6 L1422.7,175.4Z M1438.1,193.9 L1447.7,188.3 L1445.8,187.4 L1437.3,192.6Z M1183.7,346.9 L1184.5,339.2 L1188.3,344.8 L1191.8,351.2 L1189.1,354.6 L1184.5,355.5 L1183.7,351.2Z M1294.4,298.9 L1297.8,303.2 L1301.7,301.9 L1303.6,297.2 L1301.7,295.0 L1296.7,295.5Z M1338.6,282.6 L1340.9,286.9 L1344.0,283.9 L1345.5,276.2 L1344.0,272.7 L1341.3,274.9 L1339.0,279.2Z M1418.9,392.3 L1430.4,397.5 L1437.3,403.9 L1443.9,407.8 L1445.0,415.5 L1449.6,421.9 L1455.4,426.2 L1445.8,424.9 L1438.1,416.8 L1430.4,414.2 L1426.6,420.6 L1418.9,420.2Z M1445.8,404.8 L1453.5,404.8 L1459.3,399.2 L1462.3,400.5 L1459.3,405.2 L1451.6,408.2 L1446.6,406.9Z M1472.7,406.9 L1476.5,409.1 L1480.4,415.5 L1486.2,417.6 L1493.8,421.9 L1497.7,426.2 L1491.9,424.1 L1482.3,418.9 L1476.5,413.4Z M1507.3,467.8 L1513.1,471.2 L1518.8,476.8 L1516.9,477.2 L1509.2,471.2Z M1558.0,455.8 L1563.0,457.5 L1562.2,459.7 L1558.4,458.8Z M1563.0,451.9 L1568.8,450.6 L1568.0,453.2 L1563.8,453.7Z M1516.9,445.5 L1520.0,446.8 L1519.6,449.8 L1517.3,448.5Z M194.0,744.0 L215.0,739.0 L245.0,735.0 L262.0,728.0 L268.0,715.0 L300.0,709.0 L319.0,707.0 L355.0,703.0 L388.0,698.0 L420.0,701.0 L457.0,704.0 L494.0,696.0 L530.0,697.0 L563.0,698.5 L595.0,697.0 L614.0,696.0 L623.0,685.0 L619.0,671.0 L637.0,659.0 L665.0,650.0 L655.0,658.0 L645.0,668.0 L642.0,689.0 L628.0,705.5 L600.0,712.0 L559.0,717.0 L586.0,726.0 L642.0,739.0 L688.0,731.0 L739.0,719.0 L804.0,703.0 L850.0,689.0 L900.0,685.0 L926.0,682.0 L977.0,685.0 L1005.0,678.0 L1032.0,675.0 L1074.0,665.0 L1100.0,668.0 L1143.0,674.5 L1136.0,694.0 L1157.0,680.0 L1194.0,670.0 L1268.0,664.0 L1314.0,666.0 L1388.0,666.0 L1434.0,672.0 L1480.0,678.0 L1531.0,689.0 L1504.0,701.0 L1508.0,715.0 L1490.0,726.0 L1527.0,738.0 L1568.0,744.0Z" fill="#CBCBCB" />
<path d="M854.0,157.4 L853.2,152.7 L854.0,149.7 L855.9,147.6 L853.2,144.6 L849.0,143.7 L845.1,145.0 L844.4,147.6 L838.6,148.8 L839.4,152.3 L842.5,153.1 L838.6,157.4 L839.4,160.0 L844.4,160.0 L850.1,157.8Z M910.1,203.7 L913.2,203.7 L913.5,201.1 L913.2,196.9 L910.1,199.4Z M967.4,229.9 L978.1,230.3 L977.0,231.2 L969.3,231.6Z M886.3,211.4 L890.1,210.6 L889.3,212.7 L887.4,212.3Z" fill="#9DC9E8" />
<path d="M855.1,166.4 L863.6,165.6 L873.2,163.8 L882.4,161.7 L880.9,159.1 L883.6,155.3 L878.2,152.7 L877.0,151.4 L875.9,149.3 L872.4,147.1 L870.9,142.8 L867.4,141.1 L866.3,139.4 L870.1,134.7 L865.5,133.8 L861.7,134.3 L865.1,130.0 L857.8,130.0 L855.9,133.4 L854.8,136.8 L855.5,139.8 L853.2,138.1 L855.9,143.7 L858.2,142.4 L857.4,146.3 L861.7,146.3 L864.7,147.6 L865.5,150.1 L865.5,152.7 L859.4,152.7 L861.7,155.7 L861.3,157.4 L857.1,159.1 L861.7,160.4 L865.5,160.8 L861.7,161.7 L857.8,164.3Z M854.0,149.7 L855.9,147.6 L853.2,144.6 L849.0,143.7 L848.2,146.7 L846.3,147.6 L850.1,148.8Z" fill="#6FA2D7" />
<path d="M909.3,214.0 L913.9,213.6 L914.7,207.6 L913.2,204.6 L908.6,205.9 L909.7,210.1Z M924.7,219.2 L928.9,217.4 L937.0,217.4 L935.1,222.2 L935.1,223.9 L932.0,223.4 L925.1,220.0Z" fill="#6FA2D7" />
<path d="M1338.2,301.9 L1340.5,301.9 L1346.7,301.9 L1345.9,308.3 L1344.0,313.5 L1345.9,321.2 L1353.6,325.5 L1351.7,327.2 L1344.0,322.0 L1340.5,319.9 L1338.2,312.6 L1339.4,308.3Z M1345.9,351.2 L1351.7,347.8 L1355.5,344.8 L1359.3,339.6 L1363.2,346.9 L1362.0,353.3 L1359.3,356.3 L1353.6,353.3 L1346.7,352.0Z M1354.3,327.6 L1359.7,328.9 L1358.2,338.3 L1355.5,336.2Z M1345.9,330.6 L1350.9,334.0 L1352.4,336.2 L1349.7,341.8 L1347.8,339.2 L1345.5,336.2Z M1327.4,345.2 L1336.3,336.2 L1337.4,333.2 L1334.4,338.3 L1328.6,345.6Z M1339.4,323.3 L1344.0,324.6 L1342.8,328.9 L1340.1,327.6Z M1242.9,357.2 L1251.7,358.9 L1256.3,364.9 L1262.1,371.8 L1267.1,373.9 L1272.9,379.1 L1275.9,385.5 L1278.6,389.8 L1284.4,394.9 L1283.6,406.1 L1278.6,406.5 L1274.8,401.8 L1270.2,398.3 L1265.2,391.9 L1261.3,385.5 L1257.5,379.1 L1255.6,373.5 L1251.7,369.2 L1247.9,364.9 L1244.0,361.9Z M1281.3,410.4 L1284.4,406.5 L1292.1,408.2 L1301.7,410.8 L1309.4,410.8 L1317.4,414.6 L1316.7,418.5 L1307.5,416.8 L1299.8,415.9 L1292.1,414.6 L1286.3,412.9Z M1319.0,415.9 L1322.8,416.8 L1325.1,419.4 L1319.8,418.9Z M1325.9,416.8 L1334.4,416.4 L1334.4,419.4 L1326.7,419.8Z M1337.4,417.2 L1349.7,416.4 L1349.7,418.9 L1338.2,419.4Z M1351.7,424.9 L1357.4,419.8 L1366.3,417.2 L1363.2,419.8 L1355.5,424.9Z M1334.4,421.5 L1341.3,422.4 L1340.1,425.4 L1334.4,423.2Z M1295.9,374.8 L1298.2,372.6 L1303.6,374.3 L1311.3,367.5 L1317.1,361.5 L1320.9,357.6 L1325.9,351.2 L1329.4,355.5 L1334.4,358.9 L1330.5,362.8 L1329.7,372.6 L1333.6,376.9 L1328.6,381.2 L1325.9,387.6 L1324.0,396.2 L1317.1,398.3 L1311.3,394.9 L1305.5,396.2 L1300.5,393.6 L1298.2,387.6 L1295.9,381.2Z M1335.9,404.8 L1339.7,405.2 L1339.4,394.1 L1342.0,392.3 L1347.8,401.8 L1350.5,400.9 L1345.9,394.1 L1344.0,388.9 L1350.5,385.1 L1342.0,384.6 L1339.0,379.5 L1344.0,379.1 L1351.7,377.3 L1358.2,374.8 L1353.6,379.5 L1341.3,375.6 L1338.2,378.2 L1337.0,383.3 L1335.5,389.8 L1333.6,394.1 L1336.3,396.6Z M1367.0,373.5 L1368.9,371.8 L1371.6,376.9 L1368.9,379.1 L1371.6,383.3 L1368.2,384.6 L1367.0,379.1Z M1368.9,394.9 L1378.6,394.1 L1379.7,397.5 L1370.9,396.6Z M1361.3,394.9 L1365.9,394.9 L1365.1,397.9 L1361.3,397.1Z M1380.5,385.5 L1386.2,382.9 L1392.0,385.1 L1395.8,395.3 L1405.5,387.6 L1415.1,391.5 L1418.9,392.3 L1418.9,420.2 L1411.2,415.9 L1407.4,416.8 L1406.6,413.4 L1409.3,409.1 L1405.5,402.6 L1395.8,400.1 L1390.1,397.9 L1384.3,393.2 L1388.2,391.1 L1384.3,388.1Z" fill="#9DC9E8" />
<path d="M1415.1,203.3 L1419.7,202.0 L1427.4,201.1 L1436.2,195.6 L1432.4,192.6 L1422.0,186.6 L1420.8,192.6 L1417.0,195.6 L1415.1,199.0Z M1380.1,235.4 L1384.3,235.9 L1388.2,234.2 L1395.8,232.9 L1396.6,236.3 L1402.8,234.6 L1410.4,232.9 L1414.3,231.2 L1417.0,229.0 L1417.8,224.7 L1418.9,217.0 L1421.6,211.9 L1420.8,206.3 L1417.0,204.6 L1415.1,207.6 L1415.1,211.9 L1413.1,217.0 L1409.3,220.4 L1403.5,221.7 L1402.4,225.6 L1397.8,228.6 L1388.2,229.0 L1384.3,231.2 L1380.5,233.3Z M1375.1,238.9 L1377.4,236.3 L1380.5,235.9 L1383.9,239.7 L1381.6,246.6 L1378.9,248.3 L1377.4,244.0 L1375.9,240.6Z M1386.2,238.9 L1390.1,234.2 L1394.7,234.6 L1392.8,238.4 L1388.2,240.6Z" fill="#88B4DD" />
<path d="M1313.2,475.5 L1315.9,474.7 L1320.9,471.2 L1326.7,469.5 L1334.4,466.9 L1342.0,464.8 L1347.0,456.2 L1351.7,451.9 L1355.5,447.6 L1359.3,443.4 L1364.3,440.4 L1369.7,445.1 L1374.7,444.6 L1377.8,436.1 L1380.5,433.5 L1386.2,432.6 L1387.0,430.5 L1392.0,432.2 L1397.8,433.1 L1402.8,433.5 L1401.6,437.8 L1397.8,444.6 L1402.8,449.4 L1409.3,453.2 L1414.3,456.7 L1418.1,455.8 L1420.8,445.5 L1420.8,436.9 L1422.7,428.4 L1424.7,427.1 L1428.5,434.8 L1429.7,442.1 L1435.4,445.5 L1436.2,451.9 L1439.3,460.5 L1443.9,464.8 L1448.9,469.1 L1452.3,476.8 L1456.6,478.1 L1459.3,484.9 L1465.4,490.5 L1466.9,503.4 L1465.0,512.0 L1463.1,520.5 L1458.5,526.1 L1455.4,533.4 L1453.5,539.8 L1451.6,542.4 L1443.9,544.1 L1439.3,548.8 L1434.3,545.4 L1428.5,547.5 L1422.7,545.8 L1417.0,544.1 L1413.1,537.7 L1409.3,533.8 L1407.4,529.1 L1405.5,532.5 L1402.8,532.1 L1405.5,527.0 L1406.6,521.0 L1403.5,524.8 L1399.3,530.4 L1396.6,527.0 L1392.0,521.8 L1384.3,518.4 L1376.6,516.7 L1368.9,517.1 L1361.3,519.7 L1353.6,522.7 L1349.7,526.5 L1338.2,526.5 L1330.5,531.2 L1324.7,531.2 L1319.0,528.2 L1321.7,524.0 L1321.7,517.5 L1319.0,509.8 L1318.6,505.5 L1315.9,496.9 L1312.8,492.7 L1314.4,488.4 L1312.8,484.1 L1314.4,479.8Z M1432.7,555.7 L1440.0,557.4 L1447.0,556.5 L1447.0,561.3 L1445.4,566.4 L1441.2,568.1 L1436.2,563.4 L1433.1,559.1Z" fill="#8DB8DE" />
<path d="M1294.4,298.9 L1297.8,303.2 L1301.7,301.9 L1303.6,297.2 L1301.7,295.0 L1296.7,295.5Z" fill="#7098C8" />
<path d="M1540.3,528.7 L1543.8,531.2 L1547.6,536.4 L1551.5,539.8 L1553.0,538.5 L1554.2,542.8 L1559.2,544.1 L1563.0,542.8 L1561.1,548.4 L1557.3,549.3 L1556.5,552.7 L1553.4,557.0 L1550.3,559.5 L1548.0,557.8 L1549.6,552.7 L1546.5,550.5 L1545.0,549.3 L1548.0,546.2 L1548.0,540.7 L1545.0,537.2Z M1540.7,554.8 L1545.7,557.0 L1546.9,560.0 L1543.8,564.7 L1540.7,568.1 L1535.3,571.1 L1533.4,577.1 L1528.4,581.0 L1523.8,581.0 L1516.9,578.4 L1518.1,575.0 L1522.7,569.8 L1528.4,567.7 L1533.4,563.4 L1536.1,559.1 L1538.0,556.1Z" fill="#9DC9E8" />
<g clip-path="url(#clipEA)">
<path d="M830.9,235.4 L830.9,158.3 L888.6,158.3 L896.3,141.1 L892.4,115.4 L915.5,72.5 L992.3,72.5 L988.1,85.4 L986.6,87.5 L990.4,91.8 L992.3,98.3 L990.4,103.8 L994.3,109.0 L998.1,111.5 L990.4,117.5 L984.6,121.4 L982.7,124.0 L961.6,126.1 L953.9,136.8 L957.7,140.7 L963.5,139.4 L973.1,140.3 L979.3,142.4 L980.0,144.6 L976.2,148.8 L970.8,150.1 L967.4,149.7 L968.9,154.0 L966.2,157.0 L967.7,160.4 L969.3,158.7 L975.0,158.7 L980.8,160.0 L986.6,160.0 L994.3,161.3 L999.2,157.8 L1005.8,157.0 L1009.2,161.3 L1013.1,164.3 L1021.2,165.6 L1023.8,167.3 L1031.1,168.6 L1030.8,174.1 L1029.6,176.3 L1023.8,179.3 L1019.2,184.0 L1015.4,192.6 L1003.9,192.6 L996.2,188.3 L991.2,187.0 L985.4,186.1 L988.5,181.9 L992.3,181.4 L990.4,177.6 L985.4,174.6 L980.8,173.7 L979.3,174.1 L973.1,176.3 L965.4,175.4 L963.9,175.0 L961.6,177.1 L957.7,183.1 L955.1,183.6 L950.1,184.4 L951.6,187.4 L942.4,187.4 L937.8,187.4 L934.7,190.0 L930.8,192.6 L940.4,199.0 L950.1,207.6 L951.2,209.7 L953.9,211.0 L957.7,207.1 L959.7,205.4 L963.5,204.6 L969.3,203.3 L977.0,202.4 L978.1,202.4 L982.7,201.1 L984.6,201.1 L986.6,199.0 L1011.5,199.0 L1036.5,202.9 L1044.2,205.0 L1049.2,211.0 L1047.7,216.2 L1049.2,219.2 L1047.3,221.7 L1039.6,222.2 L1030.8,222.6 L1023.1,223.4 L1018.1,223.4 L1015.4,227.3 L1013.5,229.0 L992.3,235.4 L953.9,239.7 L854.0,229.0Z M1046.1,212.3 L1049.2,211.0 L1055.7,214.4 L1061.5,216.2 L1065.0,216.6 L1065.3,220.4 L1070.0,220.9 L1075.0,223.4 L1084.2,223.0 L1084.6,220.9 L1090.3,218.3 L1096.9,217.4 L1103.8,220.4 L1109.5,224.7 L1112.2,224.3 L1111.8,229.9 L1109.9,237.6 L1111.1,246.2 L1114.2,247.0 L1111.1,253.4 L1113.4,256.9 L1118.0,259.9 L1118.4,264.2 L1120.3,264.6 L1119.9,266.7 L1115.3,268.5 L1113.8,273.2 L1113.8,278.3 L1088.4,274.0 L1076.9,269.7 L1069.2,259.0 L1063.4,252.6 L1061.5,250.4 L1060.4,246.6 L1057.7,244.0 L1053.8,239.7 L1051.9,235.4 L1053.0,231.2 L1050.0,226.9 L1047.3,220.4Z M1011.2,255.2 L1015.4,256.0 L1021.2,252.6 L1023.1,246.2 L1027.7,243.2 L1032.7,244.9 L1038.4,247.9 L1048.8,256.0 L1055.7,256.4 L1059.6,256.9 L1063.0,259.0 L1069.2,263.3 L1073.0,274.0 L1073.8,275.7 L1076.9,282.6 L1089.2,283.9 L1091.1,286.9 L1088.4,295.5 L1076.9,299.7 L1065.3,301.9 L1057.7,308.3 L1053.8,307.0 L1046.1,306.6 L1043.1,309.6 L1041.5,310.9 L1034.6,310.5 L1023.1,295.5 L1007.7,261.2Z M1113.8,273.2 L1115.3,268.5 L1119.9,266.7 L1120.3,264.6 L1118.4,264.2 L1118.0,259.9 L1113.4,256.9 L1111.1,253.4 L1115.3,255.2 L1123.0,254.7 L1132.6,252.6 L1138.4,246.2 L1143.4,246.2 L1144.1,239.7 L1146.0,235.4 L1149.9,233.3 L1151.8,226.9 L1155.7,223.4 L1161.4,222.6 L1167.2,223.4 L1171.0,229.0 L1163.3,233.3 L1161.4,237.6 L1164.5,241.9 L1163.7,248.3 L1159.5,252.6 L1155.7,256.9 L1149.9,261.2 L1146.0,265.5 L1148.0,271.0 L1149.9,276.6 L1144.1,277.0 L1140.3,280.0 L1130.7,282.6 L1115.3,278.3Z M1140.3,280.0 L1134.5,286.9 L1153.7,346.9 L1184.5,355.5 L1190.2,329.8 L1193.3,310.0 L1207.5,299.7 L1219.1,291.2 L1219.1,286.9 L1217.9,277.0 L1216.0,274.9 L1219.1,272.7 L1222.1,270.2 L1230.6,273.2 L1232.1,277.0 L1229.8,280.5 L1229.8,284.7 L1232.9,286.9 L1235.2,286.0 L1237.5,278.3 L1241.0,271.9 L1242.9,267.2 L1247.9,264.2 L1251.0,260.3 L1246.0,255.2 L1240.2,256.0 L1232.5,262.0 L1228.7,261.6 L1222.1,266.3 L1218.3,264.2 L1218.7,261.2 L1215.6,261.6 L1215.2,267.6 L1203.7,266.7 L1192.2,263.3 L1184.9,257.7 L1188.3,251.7 L1180.6,247.4 L1179.5,241.9 L1182.6,240.6 L1176.8,233.3 L1173.0,228.6 L1171.0,229.0 L1163.3,233.3 L1161.4,237.6 L1164.5,241.9 L1163.7,248.3 L1159.5,252.6 L1155.7,256.9 L1149.9,261.2 L1146.0,265.5 L1148.0,271.0 L1149.9,276.6 L1144.1,277.0Z M1261.7,293.7 L1263.3,297.6 L1266.0,297.6 L1265.2,306.2 L1269.0,304.5 L1274.8,302.7 L1279.4,306.2 L1279.8,311.8 L1282.9,314.8 L1282.1,319.9 L1272.9,319.9 L1270.2,322.9 L1271.3,328.9 L1270.2,331.9 L1261.3,329.8 L1259.4,340.5 L1267.1,346.9 L1265.2,355.5 L1262.1,353.3 L1260.2,352.0 L1253.7,349.0 L1254.8,341.3 L1256.3,336.2 L1258.3,331.9 L1257.9,323.3 L1254.4,316.9 L1256.0,311.8 L1252.1,306.2 L1252.9,301.5 L1255.6,296.7Z M1262.1,353.3 L1265.2,355.5 L1267.1,356.3 L1270.2,354.6 L1276.7,361.9 L1278.6,376.1 L1274.8,376.9 L1265.2,370.5 L1261.3,359.8Z M1270.2,322.9 L1272.9,319.9 L1282.1,319.9 L1286.3,318.6 L1290.2,319.0 L1290.5,325.5 L1286.3,331.9 L1280.6,336.2 L1278.6,336.6 L1274.8,335.8 L1272.9,332.8 L1271.3,328.9Z" fill="#9DC9E8" />
<path d="M1362.0,219.6 L1355.5,226.9 L1361.3,237.6 L1372.8,233.3 L1376.6,229.0 L1374.3,222.6 L1370.9,216.2 L1367.0,217.0 L1363.9,218.7Z" fill="#88B4DD" />
<path d="M905.9,193.4 L903.9,191.7 L903.9,189.1 L902.4,187.9 L903.9,184.4 L909.7,182.7 L913.5,181.9 L917.4,180.1 L923.9,179.3 L929.7,181.9 L929.3,185.3 L929.3,188.3 L950.1,208.4 L938.5,220.4 L907.8,196.9Z" fill="#6FA2D7" />
<path d="M1354.7,210.1 L1361.3,205.4 L1368.9,203.3 L1374.7,199.4 L1378.9,199.4 L1380.5,192.6 L1381.6,188.3 L1388.2,188.3 L1394.7,176.7 L1392.0,174.1 L1386.2,176.7 L1379.3,171.6 L1367.0,167.7 L1359.3,154.4 L1349.7,151.8 L1340.1,154.0 L1337.4,160.4 L1329.7,169.0 L1324.7,167.7 L1320.9,175.4 L1332.4,175.9 L1337.4,181.0 L1322.8,188.3 L1311.3,189.1 L1305.5,193.9 L1295.9,199.0 L1280.6,202.9 L1265.2,198.6 L1247.9,197.7 L1244.0,191.3 L1236.4,188.3 L1226.8,185.7 L1226.0,177.6 L1215.2,171.1 L1212.5,170.7 L1207.5,173.3 L1205.6,179.7 L1196.0,178.9 L1193.3,186.1 L1184.5,188.3 L1186.4,192.6 L1185.2,201.1 L1174.9,205.4 L1167.2,207.1 L1159.9,211.9 L1164.5,221.3 L1167.2,223.4 L1173.0,228.6 L1176.8,233.3 L1182.6,240.6 L1179.5,241.9 L1180.6,247.4 L1188.3,251.7 L1192.2,252.6 L1199.9,255.6 L1207.5,261.2 L1215.6,261.6 L1218.7,261.2 L1222.1,260.3 L1228.7,261.6 L1232.5,262.0 L1240.2,256.0 L1246.0,255.2 L1251.0,260.3 L1255.6,263.3 L1256.3,270.6 L1252.1,278.3 L1257.5,286.0 L1262.1,289.0 L1268.3,290.3 L1270.9,284.7 L1276.7,283.5 L1282.5,281.7 L1287.1,283.5 L1290.2,288.6 L1294.0,289.5 L1307.5,299.7 L1357.4,261.2 L1353.6,231.2 L1349.7,216.2Z" fill="#7098C8" />
</g>
<g clip-path="url(#clipAF)">
<path d="M973.1,245.7 L973.1,286.9 L997.3,286.9 L1004.6,286.9 L1018.8,286.9 L1019.2,278.3 L1007.7,252.6 L1011.2,254.7 L1008.5,247.0 L1000.0,239.7 L973.1,239.7Z M887.4,353.8 L887.4,359.8 L900.1,366.2 L909.7,363.2 L910.9,361.9 L911.6,357.6 L915.5,353.3 L921.2,351.6 L923.9,344.8 L928.9,338.3 L932.8,329.8 L930.8,325.5 L925.1,324.2 L915.5,324.2 L909.7,325.5 L902.0,322.9 L892.4,323.3 L890.9,331.0 L887.8,340.5 L887.4,347.3Z M825.9,342.6 L823.2,346.9 L834.8,357.6 L848.2,364.1 L847.8,357.6 L844.4,353.3 L840.5,349.0 L837.5,345.2 L834.0,338.8 L829.0,338.8Z M988.5,385.9 L993.9,385.9 L995.8,391.1 L994.3,393.2 L988.5,393.2Z M940.4,503.8 L944.3,504.7 L950.1,505.1 L953.9,503.0 L953.9,487.5 L957.7,492.7 L963.5,492.7 L967.4,489.7 L975.0,490.9 L978.9,487.1 L982.7,481.9 L988.5,476.4 L997.3,477.2 L1000.0,486.2 L1000.0,492.7 L1003.5,496.1 L1005.8,501.2 L992.3,535.5 L946.2,535.5 L934.7,509.8Z" fill="#9DC9E8" />
</g>
<path d="M984.3,201.1 L984.6,196.0 L987.3,191.3 L991.2,187.0 L994.3,182.3 L998.1,181.4 L1005.8,184.4 L1001.9,186.6 L1005.4,190.0 L1007.7,190.9 L1013.5,187.9 L1017.3,186.6 L1021.2,189.6 L1025.0,191.3 L1030.8,195.1 L1037.3,199.0 L1036.5,203.3 L1032.7,205.4 L1025.0,205.9 L1017.3,204.1 L1011.5,201.1 L1003.9,201.6 L996.2,205.0 L988.5,204.6 L986.6,203.7Z M1012.7,186.6 L1013.5,182.7 L1021.2,179.3 L1027.7,178.9 L1023.8,181.9 L1023.1,184.0 L1021.2,186.6 L1017.3,186.1Z M1056.5,186.1 L1059.6,185.7 L1065.3,181.4 L1073.0,179.7 L1080.7,180.6 L1080.7,186.1 L1074.2,187.4 L1073.0,190.4 L1078.8,199.0 L1080.7,205.4 L1084.2,207.1 L1081.5,211.9 L1084.2,220.4 L1082.6,222.6 L1075.0,223.4 L1070.0,220.9 L1065.3,217.4 L1065.3,213.1 L1067.3,208.9 L1064.6,203.3 L1059.6,197.3 L1058.8,192.6 L1057.7,189.1Z M979.6,208.0 L982.7,208.4 L988.5,208.0 L990.4,206.7 L988.5,205.4 L984.6,205.4 L980.8,205.9Z" fill="#FFFFFF" />
<g fill="none" stroke="#8B2500" stroke-linecap="butt">
<line x1="445" y1="185" x2="501" y2="115.5" stroke-width="14.0" stroke-opacity="0.3"/>
<line x1="445" y1="185" x2="867" y2="145.5" stroke-width="8.0" stroke-opacity="0.3"/>
<line x1="445" y1="185" x2="924" y2="196" stroke-width="9.0" stroke-opacity="0.3"/>
<line x1="445" y1="185" x2="917" y2="162" stroke-width="7.0" stroke-opacity="0.3"/>
<line x1="445" y1="185" x2="887" y2="182" stroke-width="5.0" stroke-opacity="0.3"/>
<line x1="445" y1="185" x2="863.5" y2="207" stroke-width="5.0" stroke-opacity="0.3"/>
<line x1="445" y1="185" x2="895" y2="157.5" stroke-width="5.0" stroke-opacity="0.3"/>
<line x1="445" y1="185" x2="908" y2="180.6" stroke-width="3.0" stroke-opacity="0.3"/>
<line x1="445" y1="185" x2="1276" y2="223.5" stroke-width="12.0" stroke-opacity="0.3"/>
<line x1="445" y1="185" x2="1407" y2="219" stroke-width="6.0" stroke-opacity="0.3"/>
<line x1="445" y1="185" x2="1367.4" y2="223.5" stroke-width="5.0" stroke-opacity="0.3"/>
<line x1="445" y1="185" x2="1393.4" y2="491.8" stroke-width="8.0" stroke-opacity="0.3"/>
<line x1="445" y1="185" x2="671.5" y2="428" stroke-width="4.5" stroke-opacity="0.3"/>
<line x1="445" y1="185" x2="1181.7" y2="282.2" stroke-width="3.0" stroke-opacity="0.3"/>
<line x1="445" y1="185" x2="847" y2="152.3" stroke-width="2.0" stroke-opacity="0.3"/>
<line x1="445" y1="185" x2="890" y2="164" stroke-width="2.5" stroke-opacity="0.3"/>
<line x1="445" y1="185" x2="931" y2="177" stroke="#7A3418" stroke-width="1.5" stroke-opacity="0.42"/>
<line x1="445" y1="185" x2="916" y2="140" stroke-width="2.0" stroke-opacity="0.3"/>
<line x1="445" y1="185" x2="951" y2="157" stroke="#7A3418" stroke-width="1.5" stroke-opacity="0.42"/>
<line x1="445" y1="185" x2="1010.5" y2="212" stroke-width="5.0" stroke-opacity="0.3"/>
<line x1="445" y1="185" x2="1011" y2="246.6" stroke-width="2.0" stroke-opacity="0.3"/>
<line x1="445" y1="185" x2="1072" y2="271.6" stroke-width="2.0" stroke-opacity="0.3"/>
<line x1="445" y1="185" x2="991.6" y2="266" stroke-width="6.0" stroke-opacity="0.3"/>
<line x1="445" y1="185" x2="1084" y2="242" stroke="#7A3418" stroke-width="1.0" stroke-opacity="0.42"/>
<line x1="445" y1="185" x2="1143.5" y2="252.6" stroke="#7A3418" stroke-width="1.0" stroke-opacity="0.42"/>
<line x1="445" y1="185" x2="973" y2="505.6" stroke="#7A3418" stroke-width="1.0" stroke-opacity="0.42"/>
<line x1="445" y1="185" x2="908.7" y2="340.3" stroke="#7A3418" stroke-width="1.0" stroke-opacity="0.42"/>
<line x1="445" y1="185" x2="597" y2="362" stroke="#7A3418" stroke-width="1.0" stroke-opacity="0.42"/>
<line x1="445" y1="185" x2="602" y2="542" stroke="#7A3418" stroke-width="1.0" stroke-opacity="0.42"/>
<line x1="445" y1="185" x2="626" y2="532.6" stroke="#7A3418" stroke-width="1.0" stroke-opacity="0.42"/>
<line x1="445" y1="185" x2="1000" y2="213" stroke="#7A3418" stroke-width="1.0" stroke-opacity="0.42"/>
<line x1="445" y1="185" x2="846" y2="211" stroke="#7A3418" stroke-width="1.0" stroke-opacity="0.42"/>
<line x1="867" y1="145.5" x2="846" y2="211" stroke="#7A3418" stroke-width="1.0" stroke-opacity="0.42"/>
<line x1="863.5" y1="207" x2="846" y2="211" stroke="#7A3418" stroke-width="1.5" stroke-opacity="0.42"/>
<line x1="445" y1="185" x2="1280" y2="326.5" stroke="#7A3418" stroke-width="1.0" stroke-opacity="0.42"/>
<line x1="445" y1="185" x2="1277" y2="375" stroke="#7A3418" stroke-width="1.0" stroke-opacity="0.42"/>
<line x1="445" y1="185" x2="1536.5" y2="561" stroke="#7A3418" stroke-width="1.0" stroke-opacity="0.42"/>
<line x1="445" y1="185" x2="991.6" y2="389.4" stroke="#7A3418" stroke-width="1.0" stroke-opacity="0.42"/>
<line x1="445" y1="185" x2="967.6" y2="393" stroke="#7A3418" stroke-width="1.0" stroke-opacity="0.42"/>
<line x1="501" y1="115.5" x2="967.6" y2="393" stroke="#7A3418" stroke-width="1.0" stroke-opacity="0.42"/>
<line x1="908.7" y1="340.3" x2="967.6" y2="393" stroke="#7A3418" stroke-width="1.0" stroke-opacity="0.42"/>
<line x1="908.7" y1="340.3" x2="991.6" y2="389.4" stroke="#7A3418" stroke-width="1.0" stroke-opacity="0.42"/>
<line x1="908.7" y1="340.3" x2="1280" y2="326.5" stroke="#7A3418" stroke-width="1.0" stroke-opacity="0.42"/>
<line x1="831.3" y1="342.5" x2="917" y2="162" stroke="#7A3418" stroke-width="1.0" stroke-opacity="0.42"/>
<line x1="831.3" y1="342.5" x2="887" y2="182" stroke="#7A3418" stroke-width="1.0" stroke-opacity="0.42"/>
<line x1="501" y1="115.5" x2="867" y2="145.5" stroke="#7A3418" stroke-width="1.5" stroke-opacity="0.42"/>
<line x1="501" y1="115.5" x2="917" y2="162" stroke-width="2.0" stroke-opacity="0.3"/>
<line x1="501" y1="115.5" x2="924" y2="196" stroke-width="2.5" stroke-opacity="0.3"/>
<line x1="501" y1="115.5" x2="887" y2="182" stroke-width="2.0" stroke-opacity="0.3"/>
<line x1="501" y1="115.5" x2="895" y2="157.5" stroke-width="2.0" stroke-opacity="0.3"/>
<line x1="501" y1="115.5" x2="863.5" y2="207" stroke="#7A3418" stroke-width="1.0" stroke-opacity="0.42"/>
<line x1="501" y1="115.5" x2="1276" y2="223.5" stroke-width="4.0" stroke-opacity="0.3"/>
<line x1="501" y1="115.5" x2="1393.4" y2="491.8" stroke-width="8.0" stroke-opacity="0.3"/>
<line x1="501" y1="115.5" x2="1407" y2="219" stroke="#7A3418" stroke-width="1.2" stroke-opacity="0.42"/>
<line x1="501" y1="115.5" x2="908" y2="180.6" stroke="#7A3418" stroke-width="1.0" stroke-opacity="0.42"/>
<line x1="501" y1="115.5" x2="1181.7" y2="282.2" stroke="#7A3418" stroke-width="1.0" stroke-opacity="0.42"/>
<line x1="501" y1="115.5" x2="671.5" y2="428" stroke="#7A3418" stroke-width="1.0" stroke-opacity="0.42"/>
<line x1="501" y1="115.5" x2="847" y2="152.3" stroke="#7A3418" stroke-width="1.0" stroke-opacity="0.42"/>
<line x1="501" y1="115.5" x2="890" y2="164" stroke="#7A3418" stroke-width="1.0" stroke-opacity="0.42"/>
<line x1="501" y1="115.5" x2="1367.4" y2="223.5" stroke="#7A3418" stroke-width="1.0" stroke-opacity="0.42"/>
<line x1="867" y1="145.5" x2="1393.4" y2="491.8" stroke-width="7.0" stroke-opacity="0.3"/>
<line x1="917" y1="162" x2="1393.4" y2="491.8" stroke-width="4.0" stroke-opacity="0.3"/>
<line x1="924" y1="196" x2="1393.4" y2="491.8" stroke-width="5.0" stroke-opacity="0.3"/>
<line x1="895" y1="157.5" x2="1393.4" y2="491.8" stroke-width="5.0" stroke-opacity="0.3"/>
<line x1="887" y1="182" x2="1393.4" y2="491.8" stroke-width="3.0" stroke-opacity="0.3"/>
<line x1="863.5" y1="207" x2="1393.4" y2="491.8" stroke-width="3.0" stroke-opacity="0.3"/>
<line x1="908" y1="180.6" x2="1393.4" y2="491.8" stroke-width="3.0" stroke-opacity="0.3"/>
<line x1="1181.7" y1="282.2" x2="1393.4" y2="491.8" stroke-width="2.5" stroke-opacity="0.3"/>
<line x1="1276" y1="223.5" x2="1393.4" y2="491.8" stroke-width="7.0" stroke-opacity="0.3"/>
<line x1="1536.5" y1="561" x2="1393.4" y2="491.8" stroke="#7A3418" stroke-width="1.0" stroke-opacity="0.42"/>
<line x1="1277" y1="375" x2="1393.4" y2="491.8" stroke="#7A3418" stroke-width="1.0" stroke-opacity="0.42"/>
<line x1="1297.5" y1="364" x2="1393.4" y2="491.8" stroke="#7A3418" stroke-width="1.0" stroke-opacity="0.42"/>
<line x1="1280" y1="326.5" x2="1393.4" y2="491.8" stroke="#7A3418" stroke-width="1.0" stroke-opacity="0.42"/>
<line x1="847" y1="152.3" x2="1393.4" y2="491.8" stroke-width="2.0" stroke-opacity="0.3"/>
<line x1="890" y1="164" x2="1393.4" y2="491.8" stroke-width="2.0" stroke-opacity="0.3"/>
<line x1="916" y1="140" x2="1393.4" y2="491.8" stroke-width="2.0" stroke-opacity="0.3"/>
<line x1="931" y1="177" x2="1393.4" y2="491.8" stroke="#7A3418" stroke-width="1.0" stroke-opacity="0.42"/>
<line x1="867" y1="145.5" x2="1276" y2="223.5" stroke-width="3.0" stroke-opacity="0.3"/>
<line x1="917" y1="162" x2="1276" y2="223.5" stroke-width="3.0" stroke-opacity="0.3"/>
<line x1="924" y1="196" x2="1276" y2="223.5" stroke-width="3.0" stroke-opacity="0.3"/>
<line x1="895" y1="157.5" x2="1276" y2="223.5" stroke="#7A3418" stroke-width="1.5" stroke-opacity="0.42"/>
<line x1="887" y1="182" x2="1276" y2="223.5" stroke="#7A3418" stroke-width="1.0" stroke-opacity="0.42"/>
<line x1="863.5" y1="207" x2="1276" y2="223.5" stroke="#7A3418" stroke-width="1.0" stroke-opacity="0.42"/>
<line x1="908" y1="180.6" x2="1276" y2="223.5" stroke="#7A3418" stroke-width="1.0" stroke-opacity="0.42"/>
<line x1="1276" y1="223.5" x2="1367.4" y2="223.5" stroke-width="3.0" stroke-opacity="0.3"/>
<line x1="1276" y1="223.5" x2="1407" y2="219" stroke-width="4.0" stroke-opacity="0.3"/>
<line x1="1367.4" y1="223.5" x2="1407" y2="219" stroke-width="2.0" stroke-opacity="0.3"/>
<line x1="1407" y1="219" x2="1280" y2="326.5" stroke="#7A3418" stroke-width="1.0" stroke-opacity="0.42"/>
<line x1="1276" y1="223.5" x2="1536.5" y2="561" stroke="#7A3418" stroke-width="1.0" stroke-opacity="0.42"/>
<line x1="863.5" y1="207" x2="597" y2="362" stroke-width="6.0" stroke-opacity="0.3"/>
<line x1="867" y1="145.5" x2="671.5" y2="428" stroke="#7A3418" stroke-width="1.0" stroke-opacity="0.42"/>
<line x1="867" y1="145.5" x2="973" y2="505.6" stroke="#7A3418" stroke-width="1.0" stroke-opacity="0.42"/>
<line x1="895" y1="157.5" x2="973" y2="505.6" stroke="#7A3418" stroke-width="1.0" stroke-opacity="0.42"/>
<line x1="973" y1="505.6" x2="991.6" y2="389.4" stroke="#7A3418" stroke-width="1.0" stroke-opacity="0.42"/>
<line x1="973" y1="505.6" x2="1181.7" y2="282.2" stroke="#7A3418" stroke-width="1.0" stroke-opacity="0.42"/>
<line x1="867" y1="145.5" x2="908.7" y2="340.3" stroke="#7A3418" stroke-width="1.0" stroke-opacity="0.42"/>
<line x1="867" y1="145.5" x2="1181.7" y2="282.2" stroke-width="2.5" stroke-opacity="0.3"/>
<line x1="917" y1="162" x2="1181.7" y2="282.2" stroke-width="2.0" stroke-opacity="0.3"/>
<line x1="924" y1="196" x2="1181.7" y2="282.2" stroke-width="2.0" stroke-opacity="0.3"/>
<line x1="887" y1="182" x2="1181.7" y2="282.2" stroke="#7A3418" stroke-width="1.0" stroke-opacity="0.42"/>
<line x1="1181.7" y1="282.2" x2="1072" y2="271.6" stroke="#7A3418" stroke-width="1.0" stroke-opacity="0.42"/>
<line x1="1181.7" y1="282.2" x2="1280" y2="326.5" stroke="#7A3418" stroke-width="1.0" stroke-opacity="0.42"/>
<line x1="1181.7" y1="282.2" x2="1297.5" y2="364" stroke="#7A3418" stroke-width="1.0" stroke-opacity="0.42"/>
<line x1="1181.7" y1="282.2" x2="1143.5" y2="252.6" stroke="#7A3418" stroke-width="1.0" stroke-opacity="0.42"/>
<line x1="1181.7" y1="282.2" x2="1084" y2="242" stroke="#7A3418" stroke-width="1.0" stroke-opacity="0.42"/>
<line x1="867" y1="145.5" x2="1072" y2="271.6" stroke="#7A3418" stroke-width="1.0" stroke-opacity="0.42"/>
<line x1="924" y1="196" x2="1072" y2="271.6" stroke="#7A3418" stroke-width="1.0" stroke-opacity="0.42"/>
<line x1="917" y1="162" x2="1010.5" y2="212" stroke-width="2.5" stroke-opacity="0.3"/>
<line x1="867" y1="145.5" x2="1010.5" y2="212" stroke-width="4.0" stroke-opacity="0.3"/>
<line x1="924" y1="196" x2="1010.5" y2="212" stroke="#7A3418" stroke-width="1.5" stroke-opacity="0.42"/>
<line x1="1010.5" y1="212" x2="1072" y2="271.6" stroke="#7A3418" stroke-width="1.0" stroke-opacity="0.42"/>
<line x1="1010.5" y1="212" x2="1084" y2="242" stroke="#7A3418" stroke-width="1.0" stroke-opacity="0.42"/>
<line x1="924" y1="196" x2="991.6" y2="266" stroke="#7A3418" stroke-width="1.0" stroke-opacity="0.42"/>
<line x1="867" y1="145.5" x2="991.6" y2="266" stroke="#7A3418" stroke-width="1.0" stroke-opacity="0.42"/>
<line x1="991.6" y1="266" x2="1072" y2="271.6" stroke="#7A3418" stroke-width="1.0" stroke-opacity="0.42"/>
<line x1="1011" y1="246.6" x2="924" y2="196" stroke="#7A3418" stroke-width="1.0" stroke-opacity="0.42"/>
<line x1="1011" y1="246.6" x2="917" y2="162" stroke="#7A3418" stroke-width="1.0" stroke-opacity="0.42"/>
<line x1="867" y1="145.5" x2="1143.5" y2="252.6" stroke="#7A3418" stroke-width="1.0" stroke-opacity="0.42"/>
<line x1="867" y1="145.5" x2="1297.5" y2="364" stroke="#7A3418" stroke-width="1.0" stroke-opacity="0.42"/>
<line x1="867" y1="145.5" x2="1280" y2="326.5" stroke="#7A3418" stroke-width="1.0" stroke-opacity="0.42"/>
<line x1="935.5" y1="86" x2="867" y2="145.5" stroke="#7A3418" stroke-width="1.0" stroke-opacity="0.42"/>
<line x1="935.5" y1="86" x2="847" y2="152.3" stroke="#7A3418" stroke-width="1.0" stroke-opacity="0.42"/>
<line x1="935.5" y1="86" x2="1393.4" y2="491.8" stroke="#7A3418" stroke-width="1.0" stroke-opacity="0.42"/>
<line x1="935.5" y1="86" x2="1010.5" y2="212" stroke="#7A3418" stroke-width="1.0" stroke-opacity="0.42"/>
<line x1="977" y1="104" x2="1393.4" y2="491.8" stroke="#7A3418" stroke-width="1.0" stroke-opacity="0.42"/>
<line x1="977" y1="104" x2="1084" y2="242" stroke="#7A3418" stroke-width="1.0" stroke-opacity="0.42"/>
<line x1="977" y1="104" x2="1010.5" y2="212" stroke="#7A3418" stroke-width="1.0" stroke-opacity="0.42"/>
<line x1="935.5" y1="86" x2="951" y2="157" stroke="#7A3418" stroke-width="1.0" stroke-opacity="0.42"/>
<line x1="977" y1="104" x2="951" y2="157" stroke="#7A3418" stroke-width="1.0" stroke-opacity="0.42"/>
<line x1="935.5" y1="86" x2="917" y2="162" stroke="#7A3418" stroke-width="1.0" stroke-opacity="0.42"/>
<line x1="935.5" y1="86" x2="924" y2="196" stroke="#7A3418" stroke-width="1.0" stroke-opacity="0.42"/>
<line x1="935.5" y1="86" x2="895" y2="157.5" stroke="#7A3418" stroke-width="1.0" stroke-opacity="0.42"/>
<line x1="935.5" y1="86" x2="887" y2="182" stroke="#7A3418" stroke-width="1.0" stroke-opacity="0.42"/>
<line x1="935.5" y1="86" x2="863.5" y2="207" stroke="#7A3418" stroke-width="1.0" stroke-opacity="0.42"/>
<line x1="935.5" y1="86" x2="977" y2="104" stroke="#7A3418" stroke-width="1.0" stroke-opacity="0.42"/>
<line x1="935.5" y1="86" x2="916" y2="140" stroke="#7A3418" stroke-width="1.0" stroke-opacity="0.42"/>
<line x1="935.5" y1="86" x2="908" y2="180.6" stroke="#7A3418" stroke-width="1.0" stroke-opacity="0.42"/>
<line x1="977" y1="104" x2="867" y2="145.5" stroke="#7A3418" stroke-width="1.0" stroke-opacity="0.42"/>
<line x1="977" y1="104" x2="917" y2="162" stroke="#7A3418" stroke-width="1.0" stroke-opacity="0.42"/>
<line x1="977" y1="104" x2="924" y2="196" stroke="#7A3418" stroke-width="1.0" stroke-opacity="0.42"/>
<line x1="977" y1="104" x2="895" y2="157.5" stroke="#7A3418" stroke-width="1.0" stroke-opacity="0.42"/>
<line x1="977" y1="104" x2="887" y2="182" stroke="#7A3418" stroke-width="1.0" stroke-opacity="0.42"/>
<line x1="831.3" y1="342.5" x2="445" y2="185" stroke="#7A3418" stroke-width="1.0" stroke-opacity="0.42"/>
<line x1="991.6" y1="389.4" x2="867" y2="145.5" stroke="#7A3418" stroke-width="1.0" stroke-opacity="0.42"/>
<line x1="1297.5" y1="364" x2="1277" y2="375" stroke="#7A3418" stroke-width="1.0" stroke-opacity="0.42"/>
<line x1="867" y1="145.5" x2="1184" y2="347" stroke="#7A3418" stroke-width="1.5" stroke-opacity="0.42"/>
<line x1="924" y1="196" x2="1184" y2="347" stroke="#7A3418" stroke-width="1.0" stroke-opacity="0.42"/>
<line x1="445" y1="185" x2="1184" y2="347" stroke="#7A3418" stroke-width="1.0" stroke-opacity="0.42"/>
<line x1="973" y1="505.6" x2="1184" y2="347" stroke="#7A3418" stroke-width="1.0" stroke-opacity="0.42"/>
<line x1="1184" y1="347" x2="1280" y2="326.5" stroke="#7A3418" stroke-width="1.0" stroke-opacity="0.42"/>
<line x1="1184" y1="347" x2="1393.4" y2="491.8" stroke="#7A3418" stroke-width="1.5" stroke-opacity="0.42"/>
<line x1="917" y1="162" x2="1184" y2="347" stroke="#7A3418" stroke-width="1.0" stroke-opacity="0.42"/>
<line x1="1256" y1="341" x2="1297.5" y2="364" stroke="#7A3418" stroke-width="1.0" stroke-opacity="0.42"/>
<line x1="1181.7" y1="282.2" x2="1256" y2="341" stroke="#7A3418" stroke-width="1.0" stroke-opacity="0.42"/>
<line x1="1280" y1="326.5" x2="1297.5" y2="364" stroke="#7A3418" stroke-width="1.0" stroke-opacity="0.42"/>
<line x1="445" y1="185" x2="1266" y2="315" stroke="#7A3418" stroke-width="1.0" stroke-opacity="0.42"/>
<line x1="445" y1="185" x2="1297.5" y2="364" stroke="#7A3418" stroke-width="1.0" stroke-opacity="0.42"/>
<line x1="445" y1="185" x2="1256" y2="341" stroke="#7A3418" stroke-width="1.0" stroke-opacity="0.42"/>
<line x1="924" y1="196" x2="1084" y2="242" stroke="#7A3418" stroke-width="1.0" stroke-opacity="0.42"/>
<line x1="867" y1="145.5" x2="1084" y2="242" stroke="#7A3418" stroke-width="1.0" stroke-opacity="0.42"/>
<line x1="917" y1="162" x2="1084" y2="242" stroke="#7A3418" stroke-width="1.0" stroke-opacity="0.42"/>
<line x1="445" y1="185" x2="1000" y2="213" stroke="#7A3418" stroke-width="1.0" stroke-opacity="0.42"/>
<line x1="924" y1="196" x2="1000" y2="213" stroke-width="2.0" stroke-opacity="0.3"/>
<line x1="867" y1="145.5" x2="1000" y2="213" stroke="#7A3418" stroke-width="1.0" stroke-opacity="0.42"/>
<line x1="991.6" y1="266" x2="917" y2="162" stroke="#7A3418" stroke-width="1.0" stroke-opacity="0.42"/>
<line x1="991.6" y1="266" x2="887" y2="182" stroke="#7A3418" stroke-width="1.0" stroke-opacity="0.42"/>
<line x1="1072" y1="271.6" x2="1143.5" y2="252.6" stroke="#7A3418" stroke-width="1.0" stroke-opacity="0.42"/>
<line x1="1072" y1="271.6" x2="991.6" y2="266" stroke="#7A3418" stroke-width="1.0" stroke-opacity="0.42"/>
<line x1="924" y1="196" x2="1280" y2="326.5" stroke="#7A3418" stroke-width="1.0" stroke-opacity="0.42"/>
<line x1="917" y1="162" x2="1280" y2="326.5" stroke="#7A3418" stroke-width="1.0" stroke-opacity="0.42"/>
<line x1="895" y1="157.5" x2="1181.7" y2="282.2" stroke="#7A3418" stroke-width="1.5" stroke-opacity="0.42"/>
<line x1="863.5" y1="207" x2="1181.7" y2="282.2" stroke="#7A3418" stroke-width="1.0" stroke-opacity="0.42"/>
<line x1="867" y1="145.5" x2="1407" y2="219" stroke="#7A3418" stroke-width="1.5" stroke-opacity="0.42"/>
<line x1="917" y1="162" x2="1407" y2="219" stroke="#7A3418" stroke-width="1.5" stroke-opacity="0.42"/>
<line x1="924" y1="196" x2="1407" y2="219" stroke="#7A3418" stroke-width="1.5" stroke-opacity="0.42"/>
<line x1="867" y1="145.5" x2="1367.4" y2="223.5" stroke="#7A3418" stroke-width="1.0" stroke-opacity="0.42"/>
<line x1="917" y1="162" x2="1367.4" y2="223.5" stroke="#7A3418" stroke-width="1.0" stroke-opacity="0.42"/>
<line x1="895" y1="157.5" x2="1367.4" y2="223.5" stroke="#7A3418" stroke-width="1.0" stroke-opacity="0.42"/>
<line x1="867" y1="145.5" x2="847" y2="152.3" stroke-width="2" stroke-opacity="0.3"/>
<line x1="867" y1="145.5" x2="895" y2="157.5" stroke-width="4" stroke-opacity="0.3"/>
<line x1="867" y1="145.5" x2="890" y2="164" stroke-width="2" stroke-opacity="0.3"/>
<line x1="867" y1="145.5" x2="917" y2="162" stroke-width="5" stroke-opacity="0.3"/>
<line x1="867" y1="145.5" x2="887" y2="182" stroke-width="3" stroke-opacity="0.3"/>
<line x1="867" y1="145.5" x2="863.5" y2="207" stroke-width="5" stroke-opacity="0.3"/>
<line x1="867" y1="145.5" x2="924" y2="196" stroke-width="6" stroke-opacity="0.3"/>
<line x1="867" y1="145.5" x2="908" y2="180.6" stroke-width="2" stroke-opacity="0.3"/>
<line x1="867" y1="145.5" x2="931" y2="177" stroke="#7A3418" stroke-width="1.0" stroke-opacity="0.42"/>
<line x1="867" y1="145.5" x2="916" y2="140" stroke-width="2" stroke-opacity="0.3"/>
<line x1="867" y1="145.5" x2="951" y2="157" stroke-width="6" stroke-opacity="0.3"/>
<line x1="867" y1="145.5" x2="1000" y2="213" stroke="#7A3418" stroke-width="1.0" stroke-opacity="0.42"/>
<line x1="847" y1="152.3" x2="895" y2="157.5" stroke="#7A3418" stroke-width="1.0" stroke-opacity="0.42"/>
<line x1="847" y1="152.3" x2="890" y2="164" stroke="#7A3418" stroke-width="1.0" stroke-opacity="0.42"/>
<line x1="847" y1="152.3" x2="917" y2="162" stroke="#7A3418" stroke-width="1.0" stroke-opacity="0.42"/>
<line x1="847" y1="152.3" x2="887" y2="182" stroke="#7A3418" stroke-width="1.0" stroke-opacity="0.42"/>
<line x1="847" y1="152.3" x2="863.5" y2="207" stroke="#7A3418" stroke-width="1.0" stroke-opacity="0.42"/>
<line x1="847" y1="152.3" x2="924" y2="196" stroke="#7A3418" stroke-width="1.0" stroke-opacity="0.42"/>
<line x1="847" y1="152.3" x2="908" y2="180.6" stroke="#7A3418" stroke-width="1.0" stroke-opacity="0.42"/>
<line x1="847" y1="152.3" x2="931" y2="177" stroke="#7A3418" stroke-width="1.0" stroke-opacity="0.42"/>
<line x1="847" y1="152.3" x2="916" y2="140" stroke="#7A3418" stroke-width="1.0" stroke-opacity="0.42"/>
<line x1="847" y1="152.3" x2="951" y2="157" stroke="#7A3418" stroke-width="1.0" stroke-opacity="0.42"/>
<line x1="847" y1="152.3" x2="1000" y2="213" stroke="#7A3418" stroke-width="1.0" stroke-opacity="0.42"/>
<line x1="895" y1="157.5" x2="890" y2="164" stroke-width="2" stroke-opacity="0.3"/>
<line x1="895" y1="157.5" x2="917" y2="162" stroke-width="4" stroke-opacity="0.3"/>
<line x1="895" y1="157.5" x2="887" y2="182" stroke="#7A3418" stroke-width="1.0" stroke-opacity="0.42"/>
<line x1="895" y1="157.5" x2="863.5" y2="207" stroke-width="3" stroke-opacity="0.3"/>
<line x1="895" y1="157.5" x2="924" y2="196" stroke-width="3" stroke-opacity="0.3"/>
<line x1="895" y1="157.5" x2="908" y2="180.6" stroke="#7A3418" stroke-width="1.0" stroke-opacity="0.42"/>
<line x1="895" y1="157.5" x2="931" y2="177" stroke="#7A3418" stroke-width="1.0" stroke-opacity="0.42"/>
<line x1="895" y1="157.5" x2="916" y2="140" stroke="#7A3418" stroke-width="1.0" stroke-opacity="0.42"/>
<line x1="895" y1="157.5" x2="951" y2="157" stroke="#7A3418" stroke-width="1.0" stroke-opacity="0.42"/>
<line x1="895" y1="157.5" x2="1000" y2="213" stroke="#7A3418" stroke-width="1.0" stroke-opacity="0.42"/>
<line x1="890" y1="164" x2="917" y2="162" stroke="#7A3418" stroke-width="1.0" stroke-opacity="0.42"/>
<line x1="890" y1="164" x2="887" y2="182" stroke="#7A3418" stroke-width="1.0" stroke-opacity="0.42"/>
<line x1="890" y1="164" x2="863.5" y2="207" stroke="#7A3418" stroke-width="1.0" stroke-opacity="0.42"/>
<line x1="890" y1="164" x2="924" y2="196" stroke-width="2" stroke-opacity="0.3"/>
<line x1="890" y1="164" x2="908" y2="180.6" stroke="#7A3418" stroke-width="1.0" stroke-opacity="0.42"/>
<line x1="890" y1="164" x2="931" y2="177" stroke="#7A3418" stroke-width="1.0" stroke-opacity="0.42"/>
<line x1="890" y1="164" x2="916" y2="140" stroke="#7A3418" stroke-width="1.0" stroke-opacity="0.42"/>
<line x1="890" y1="164" x2="951" y2="157" stroke="#7A3418" stroke-width="1.0" stroke-opacity="0.42"/>
<line x1="890" y1="164" x2="1000" y2="213" stroke="#7A3418" stroke-width="1.0" stroke-opacity="0.42"/>
<line x1="917" y1="162" x2="887" y2="182" stroke-width="3" stroke-opacity="0.3"/>
<line x1="917" y1="162" x2="863.5" y2="207" stroke-width="3" stroke-opacity="0.3"/>
<line x1="917" y1="162" x2="924" y2="196" stroke-width="4" stroke-opacity="0.3"/>
<line x1="917" y1="162" x2="908" y2="180.6" stroke-width="3" stroke-opacity="0.3"/>
<line x1="917" y1="162" x2="931" y2="177" stroke-width="2" stroke-opacity="0.3"/>
<line x1="917" y1="162" x2="916" y2="140" stroke="#7A3418" stroke-width="1.0" stroke-opacity="0.42"/>
<line x1="917" y1="162" x2="951" y2="157" stroke-width="2" stroke-opacity="0.3"/>
<line x1="917" y1="162" x2="1000" y2="213" stroke="#7A3418" stroke-width="1.0" stroke-opacity="0.42"/>
<line x1="887" y1="182" x2="863.5" y2="207" stroke-width="2" stroke-opacity="0.3"/>
<line x1="887" y1="182" x2="924" y2="196" stroke-width="3" stroke-opacity="0.3"/>
<line x1="887" y1="182" x2="908" y2="180.6" stroke="#7A3418" stroke-width="1.0" stroke-opacity="0.42"/>
<line x1="887" y1="182" x2="931" y2="177" stroke="#7A3418" stroke-width="1.0" stroke-opacity="0.42"/>
<line x1="887" y1="182" x2="916" y2="140" stroke="#7A3418" stroke-width="1.0" stroke-opacity="0.42"/>
<line x1="887" y1="182" x2="951" y2="157" stroke="#7A3418" stroke-width="1.0" stroke-opacity="0.42"/>
<line x1="887" y1="182" x2="1000" y2="213" stroke="#7A3418" stroke-width="1.0" stroke-opacity="0.42"/>
<line x1="863.5" y1="207" x2="924" y2="196" stroke-width="3" stroke-opacity="0.3"/>
<line x1="863.5" y1="207" x2="908" y2="180.6" stroke="#7A3418" stroke-width="1.0" stroke-opacity="0.42"/>
<line x1="863.5" y1="207" x2="931" y2="177" stroke="#7A3418" stroke-width="1.0" stroke-opacity="0.42"/>
<line x1="863.5" y1="207" x2="916" y2="140" stroke-width="4" stroke-opacity="0.3"/>
<line x1="863.5" y1="207" x2="951" y2="157" stroke-width="3" stroke-opacity="0.3"/>
<line x1="863.5" y1="207" x2="1000" y2="213" stroke="#7A3418" stroke-width="1.0" stroke-opacity="0.42"/>
<line x1="924" y1="196" x2="908" y2="180.6" stroke-width="2" stroke-opacity="0.3"/>
<line x1="924" y1="196" x2="931" y2="177" stroke="#7A3418" stroke-width="1.0" stroke-opacity="0.42"/>
<line x1="924" y1="196" x2="916" y2="140" stroke="#7A3418" stroke-width="1.0" stroke-opacity="0.42"/>
<line x1="924" y1="196" x2="951" y2="157" stroke="#7A3418" stroke-width="1.0" stroke-opacity="0.42"/>
<line x1="924" y1="196" x2="1000" y2="213" stroke="#7A3418" stroke-width="1.0" stroke-opacity="0.42"/>
<line x1="908" y1="180.6" x2="931" y2="177" stroke="#7A3418" stroke-width="1.0" stroke-opacity="0.42"/>
<line x1="908" y1="180.6" x2="916" y2="140" stroke="#7A3418" stroke-width="1.0" stroke-opacity="0.42"/>
<line x1="908" y1="180.6" x2="951" y2="157" stroke="#7A3418" stroke-width="1.0" stroke-opacity="0.42"/>
<line x1="908" y1="180.6" x2="1000" y2="213" stroke="#7A3418" stroke-width="1.0" stroke-opacity="0.42"/>
<line x1="931" y1="177" x2="916" y2="140" stroke="#7A3418" stroke-width="1.0" stroke-opacity="0.42"/>
<line x1="931" y1="177" x2="951" y2="157" stroke="#7A3418" stroke-width="1.0" stroke-opacity="0.42"/>
<line x1="931" y1="177" x2="1000" y2="213" stroke="#7A3418" stroke-width="1.0" stroke-opacity="0.42"/>
<line x1="916" y1="140" x2="951" y2="157" stroke="#7A3418" stroke-width="1.0" stroke-opacity="0.42"/>
<line x1="916" y1="140" x2="1000" y2="213" stroke="#7A3418" stroke-width="1.0" stroke-opacity="0.42"/>
<line x1="951" y1="157" x2="1000" y2="213" stroke="#7A3418" stroke-width="1.0" stroke-opacity="0.42"/>
</g>
</g>
<text transform="translate(19.20,47.50) scale(0.8926,1)" font-size="34.49" font-weight="normal" fill="#000" >(A)</text>
<text transform="translate(100.00,434.10) rotate(-90) translate(0.00,0) scale(1.0261,1)" font-size="22.17" font-weight="normal" fill="#000">Longitude</text>
<text transform="translate(861.60,812.90) scale(0.8046,1)" font-size="24.93" font-weight="normal" fill="#000" >Latitude</text>
<line x1="135.6" y1="1413.92" x2="1606.6" y2="1413.92" stroke="#EBEBEB" stroke-width="2"/>
<line x1="135.6" y1="1336.84" x2="1606.6" y2="1336.84" stroke="#EBEBEB" stroke-width="2"/>
<line x1="135.6" y1="1259.76" x2="1606.6" y2="1259.76" stroke="#EBEBEB" stroke-width="2"/>
<line x1="135.6" y1="1182.68" x2="1606.6" y2="1182.68" stroke="#EBEBEB" stroke-width="2"/>
<line x1="135.6" y1="1105.60" x2="1606.6" y2="1105.60" stroke="#EBEBEB" stroke-width="2"/>
<line x1="135.6" y1="1028.52" x2="1606.6" y2="1028.52" stroke="#EBEBEB" stroke-width="2"/>
<line x1="135.6" y1="951.44" x2="1606.6" y2="951.44" stroke="#EBEBEB" stroke-width="2"/>
<line x1="135.6" y1="874.36" x2="1606.6" y2="874.36" stroke="#EBEBEB" stroke-width="2"/>
<line x1="204.20" y1="838.5" x2="204.20" y2="1521.4" stroke="#EBEBEB" stroke-width="1.8"/>
<line x1="316.40" y1="838.5" x2="316.40" y2="1521.4" stroke="#EBEBEB" stroke-width="1.8"/>
<line x1="372.50" y1="838.5" x2="372.50" y2="1521.4" stroke="#EBEBEB" stroke-width="1.8"/>
<line x1="428.60" y1="838.5" x2="428.60" y2="1521.4" stroke="#EBEBEB" stroke-width="1.8"/>
<line x1="484.70" y1="838.5" x2="484.70" y2="1521.4" stroke="#EBEBEB" stroke-width="1.8"/>
<line x1="540.80" y1="838.5" x2="540.80" y2="1521.4" stroke="#EBEBEB" stroke-width="1.8"/>
<line x1="596.90" y1="838.5" x2="596.90" y2="1521.4" stroke="#EBEBEB" stroke-width="1.8"/>
<line x1="653.00" y1="838.5" x2="653.00" y2="1521.4" stroke="#EBEBEB" stroke-width="1.8"/>
<line x1="709.10" y1="838.5" x2="709.10" y2="1521.4" stroke="#EBEBEB" stroke-width="1.8"/>
<line x1="765.20" y1="838.5" x2="765.20" y2="1521.4" stroke="#EBEBEB" stroke-width="1.8"/>
<line x1="821.30" y1="838.5" x2="821.30" y2="1521.4" stroke="#EBEBEB" stroke-width="1.8"/>
<line x1="877.40" y1="838.5" x2="877.40" y2="1521.4" stroke="#EBEBEB" stroke-width="1.8"/>
<line x1="933.50" y1="838.5" x2="933.50" y2="1521.4" stroke="#EBEBEB" stroke-width="1.8"/>
<line x1="989.60" y1="838.5" x2="989.60" y2="1521.4" stroke="#EBEBEB" stroke-width="1.8"/>
<line x1="1045.70" y1="838.5" x2="1045.70" y2="1521.4" stroke="#EBEBEB" stroke-width="1.8"/>
<line x1="1101.80" y1="838.5" x2="1101.80" y2="1521.4" stroke="#EBEBEB" stroke-width="1.8"/>
<line x1="1157.90" y1="838.5" x2="1157.90" y2="1521.4" stroke="#EBEBEB" stroke-width="1.8"/>
<line x1="1214.00" y1="838.5" x2="1214.00" y2="1521.4" stroke="#EBEBEB" stroke-width="1.8"/>
<line x1="1270.10" y1="838.5" x2="1270.10" y2="1521.4" stroke="#EBEBEB" stroke-width="1.8"/>
<line x1="1326.20" y1="838.5" x2="1326.20" y2="1521.4" stroke="#EBEBEB" stroke-width="1.8"/>
<line x1="1382.30" y1="838.5" x2="1382.30" y2="1521.4" stroke="#EBEBEB" stroke-width="1.8"/>
<line x1="1438.40" y1="838.5" x2="1438.40" y2="1521.4" stroke="#EBEBEB" stroke-width="1.8"/>
<line x1="1494.50" y1="838.5" x2="1494.50" y2="1521.4" stroke="#EBEBEB" stroke-width="1.8"/>
<line x1="681.05" y1="838.5" x2="681.05" y2="1521.4" stroke="#EBEBEB" stroke-width="1.8"/>
<line x1="737.15" y1="838.5" x2="737.15" y2="1521.4" stroke="#EBEBEB" stroke-width="1.8"/>
<line x1="793.25" y1="838.5" x2="793.25" y2="1521.4" stroke="#EBEBEB" stroke-width="1.8"/>
<line x1="849.35" y1="838.5" x2="849.35" y2="1521.4" stroke="#EBEBEB" stroke-width="1.8"/>
<line x1="905.45" y1="838.5" x2="905.45" y2="1521.4" stroke="#EBEBEB" stroke-width="1.8"/>
<line x1="961.55" y1="838.5" x2="961.55" y2="1521.4" stroke="#EBEBEB" stroke-width="1.8"/>
<line x1="1017.65" y1="838.5" x2="1017.65" y2="1521.4" stroke="#EBEBEB" stroke-width="1.8"/>
<line x1="1073.75" y1="838.5" x2="1073.75" y2="1521.4" stroke="#EBEBEB" stroke-width="1.8"/>
<line x1="1129.85" y1="838.5" x2="1129.85" y2="1521.4" stroke="#EBEBEB" stroke-width="1.8"/>
<rect x="205.3" y="837.5" width="434.2" height="616.5" fill="#fff"/>
<line x1="135.6" y1="1491.00" x2="1606.6" y2="1491.00" stroke="#D6D6D6" stroke-width="2.4"/>
<polyline points="204.20,1491.00 316.40,1490.90 372.50,1490.85 428.60,1490.79 484.70,1490.74 540.80,1490.69 596.90,1490.64 653.00,1490.59 709.10,1490.54 765.20,1490.49 821.30,1490.43 877.40,1490.38 933.50,1490.33 989.60,1490.28 1045.70,1490.23 1101.80,1488.69 1157.90,1487.15 1214.00,1485.60 1270.10,1484.06 1326.20,1484.06 1382.30,1472.50 1438.40,1441.67 1494.50,1432.42 1550.60,1426.25 1606.70,1420.86" fill="none" stroke="#DE7065" stroke-width="2.3" stroke-linejoin="round" />
<polyline points="204.20,1491.00 316.40,1490.69 372.50,1490.54 428.60,1490.38 484.70,1490.23 540.80,1487.15 596.90,1487.15 653.00,1487.15 709.10,1483.29 765.20,1479.44 821.30,1475.58 877.40,1472.50 933.50,1457.08 989.60,1457.08 1045.70,1456.31 1101.80,1450.92 1157.90,1450.92 1214.00,1448.61 1270.10,1438.59 1326.20,1430.88 1382.30,1424.71 1438.40,1391.57 1494.50,1379.23 1550.60,1329.13 1606.70,1327.59" fill="none" stroke="#C88A1E" stroke-width="2.3" stroke-linejoin="round" />
<polyline points="204.20,1491.00 316.40,1490.87 372.50,1490.81 428.60,1490.74 484.70,1490.68 540.80,1490.61 596.90,1490.55 653.00,1490.49 709.10,1490.42 765.20,1490.36 821.30,1490.29 877.40,1490.23 933.50,1487.15 989.60,1483.29 1045.70,1483.29 1101.80,1481.75 1157.90,1475.58 1214.00,1474.81 1270.10,1473.27 1326.20,1461.71 1382.30,1442.44 1438.40,1411.61 1494.50,1342.24 1550.60,1287.51 1606.70,1263.61" fill="none" stroke="#A0A024" stroke-width="2.3" stroke-linejoin="round" />
<polyline points="204.20,1491.00 316.40,1490.89 372.50,1490.83 428.60,1490.78 484.70,1490.72 540.80,1490.67 596.90,1490.61 653.00,1490.56 709.10,1490.50 765.20,1490.45 821.30,1490.39 877.40,1490.34 933.50,1490.28 989.60,1490.23 1045.70,1490.23 1101.80,1487.92 1157.90,1487.92 1214.00,1487.15 1270.10,1483.29 1326.20,1483.29 1382.30,1474.81 1438.40,1458.63 1494.50,1453.23 1550.60,1429.34 1606.70,1429.34" fill="none" stroke="#5BAA2A" stroke-width="2.3" stroke-linejoin="round" />
<polyline points="204.20,1491.00 316.40,1490.85 372.50,1490.77 428.60,1490.69 484.70,1490.61 540.80,1490.54 596.90,1490.46 653.00,1490.38 709.10,1490.31 765.20,1490.23 821.30,1490.04 877.40,1489.84 933.50,1489.65 989.60,1489.46 1045.70,1488.69 1101.80,1487.15 1157.90,1484.83 1214.00,1480.98 1270.10,1474.81 1326.20,1449.38 1382.30,1437.04 1438.40,1423.17 1494.50,1391.57 1550.60,1379.23 1606.70,1377.69" fill="none" stroke="#5BAF78" stroke-width="2.3" stroke-linejoin="round" />
<polyline points="204.20,1491.00 316.40,1490.85 372.50,1490.77 428.60,1490.69 484.70,1490.61 540.80,1490.54 596.90,1490.46 653.00,1490.38 709.10,1490.31 765.20,1490.23 821.30,1490.04 877.40,1489.84 933.50,1489.65 989.60,1489.46 1045.70,1488.69 1101.80,1487.15 1157.90,1484.83 1214.00,1483.29 1270.10,1479.44 1326.20,1470.19 1382.30,1447.84 1438.40,1427.02 1494.50,1409.30 1550.60,1382.32 1606.70,1379.23" fill="none" stroke="#5AB3B5" stroke-width="2.3" stroke-linejoin="round" />
<polyline points="204.20,1491.00 316.40,1490.61 372.50,1490.42 428.60,1490.23 484.70,1490.04 540.80,1489.84 596.90,1489.65 653.00,1489.46 709.10,1489.27 765.20,1489.07 821.30,1488.88 877.40,1488.69 933.50,1487.92 989.60,1487.15 1045.70,1484.83 1101.80,1480.21 1157.90,1467.88 1214.00,1460.17 1270.10,1455.54 1326.20,1427.02 1382.30,1410.07 1438.40,1395.42 1494.50,1381.55 1550.60,1359.19 1606.70,1355.34" fill="none" stroke="#4DA3E8" stroke-width="2.3" stroke-linejoin="round" />
<polyline points="204.20,1491.00 316.40,1490.69 372.50,1490.54 428.60,1490.38 484.70,1490.23 540.80,1488.69 596.90,1488.49 653.00,1488.30 709.10,1488.11 765.20,1487.92 821.30,1487.66 877.40,1487.40 933.50,1487.15 989.60,1486.38 1045.70,1485.60 1101.80,1484.06 1157.90,1483.29 1214.00,1482.52 1270.10,1480.98 1326.20,1479.44 1382.30,1470.19 1438.40,1469.42 1494.50,1459.40 1550.60,1455.54 1606.70,1453.23" fill="none" stroke="#8A87F0" stroke-width="2.3" stroke-linejoin="round" />
<polyline points="204.20,1491.00 316.40,1490.89 372.50,1490.83 428.60,1490.78 484.70,1490.72 540.80,1490.67 596.90,1490.61 653.00,1490.56 709.10,1490.50 765.20,1490.45 821.30,1490.39 877.40,1490.34 933.50,1490.28 989.60,1490.23 1045.70,1488.69 1101.80,1480.21 1157.90,1467.88 1214.00,1466.33 1270.10,1459.40 1326.20,1453.23 1382.30,1444.75 1438.40,1424.71 1494.50,1414.69 1550.60,1395.42 1606.70,1394.65" fill="none" stroke="#C862E8" stroke-width="2.3" stroke-linejoin="round" />
<polyline points="204.20,1490.23 316.40,1490.23 372.50,1489.46 428.60,1484.83 484.70,1484.06 540.80,1481.75 596.90,1475.58 653.00,1475.58 709.10,1471.73 765.20,1470.96 821.30,1467.11 877.40,1447.84 933.50,1430.88 989.60,1420.09 1045.70,1398.50 1101.80,1395.42 1157.90,1371.53 1214.00,1351.49 1270.10,1316.80 1326.20,1267.47 1382.30,1182.68 1438.40,1086.33 1494.50,1006.17 1550.60,882.84 1606.70,869.74" fill="none" stroke="#D65BAE" stroke-width="2.3" stroke-linejoin="round" />
<line x1="133.6" y1="838.5" x2="133.6" y2="1523.7" stroke="#000" stroke-width="2.3"/>
<line x1="132.5" y1="1522.4" x2="1606.6" y2="1522.4" stroke="#000" stroke-width="2.6"/>
<line x1="128.6" y1="1491.00" x2="133.6" y2="1491.00" stroke="#000" stroke-width="2.2"/>
<text transform="translate(114.60,1499.75) scale(0.6252,1)" font-size="25.36" font-weight="normal" fill="#1a1a1a" >0</text>
<line x1="128.6" y1="1336.84" x2="133.6" y2="1336.84" stroke="#000" stroke-width="2.2"/>
<text transform="translate(97.00,1345.59) scale(0.6233,1)" font-size="25.36" font-weight="normal" fill="#1a1a1a" >200</text>
<line x1="128.6" y1="1182.68" x2="133.6" y2="1182.68" stroke="#000" stroke-width="2.2"/>
<text transform="translate(97.00,1191.43) scale(0.6233,1)" font-size="25.36" font-weight="normal" fill="#1a1a1a" >400</text>
<line x1="128.6" y1="1028.52" x2="133.6" y2="1028.52" stroke="#000" stroke-width="2.2"/>
<text transform="translate(97.00,1037.27) scale(0.6233,1)" font-size="25.36" font-weight="normal" fill="#1a1a1a" >600</text>
<line x1="128.6" y1="874.36" x2="133.6" y2="874.36" stroke="#000" stroke-width="2.2"/>
<text transform="translate(97.00,883.11) scale(0.6233,1)" font-size="25.36" font-weight="normal" fill="#1a1a1a" >800</text>
<line x1="204.20" y1="1522.4" x2="204.20" y2="1529.9" stroke="#000" stroke-width="2.2"/>
<text transform="translate(218.40,1598.70) rotate(-90) translate(0.00,0) scale(1.3864,1)" font-size="19.71" font-weight="normal" fill="#1a1a1a">2000</text>
<line x1="316.40" y1="1522.4" x2="316.40" y2="1529.9" stroke="#000" stroke-width="2.2"/>
<text transform="translate(330.60,1598.70) rotate(-90) translate(0.00,0) scale(1.3864,1)" font-size="19.71" font-weight="normal" fill="#1a1a1a">2002</text>
<line x1="372.50" y1="1522.4" x2="372.50" y2="1529.9" stroke="#000" stroke-width="2.2"/>
<text transform="translate(386.70,1598.70) rotate(-90) translate(0.00,0) scale(1.3864,1)" font-size="19.71" font-weight="normal" fill="#1a1a1a">2003</text>
<line x1="428.60" y1="1522.4" x2="428.60" y2="1529.9" stroke="#000" stroke-width="2.2"/>
<text transform="translate(442.80,1598.70) rotate(-90) translate(0.00,0) scale(1.3864,1)" font-size="19.71" font-weight="normal" fill="#1a1a1a">2004</text>
<line x1="484.70" y1="1522.4" x2="484.70" y2="1529.9" stroke="#000" stroke-width="2.2"/>
<text transform="translate(498.90,1598.70) rotate(-90) translate(0.00,0) scale(1.3864,1)" font-size="19.71" font-weight="normal" fill="#1a1a1a">2005</text>
<line x1="540.80" y1="1522.4" x2="540.80" y2="1529.9" stroke="#000" stroke-width="2.2"/>
<text transform="translate(555.00,1598.70) rotate(-90) translate(0.00,0) scale(1.3864,1)" font-size="19.71" font-weight="normal" fill="#1a1a1a">2006</text>
<line x1="596.90" y1="1522.4" x2="596.90" y2="1529.9" stroke="#000" stroke-width="2.2"/>
<text transform="translate(611.10,1598.70) rotate(-90) translate(0.00,0) scale(1.3864,1)" font-size="19.71" font-weight="normal" fill="#1a1a1a">2007</text>
<line x1="653.00" y1="1522.4" x2="653.00" y2="1529.9" stroke="#000" stroke-width="2.2"/>
<text transform="translate(667.20,1598.70) rotate(-90) translate(0.00,0) scale(1.3864,1)" font-size="19.71" font-weight="normal" fill="#1a1a1a">2008</text>
<line x1="709.10" y1="1522.4" x2="709.10" y2="1529.9" stroke="#000" stroke-width="2.2"/>
<text transform="translate(723.30,1598.70) rotate(-90) translate(0.00,0) scale(1.3864,1)" font-size="19.71" font-weight="normal" fill="#1a1a1a">2009</text>
<line x1="765.20" y1="1522.4" x2="765.20" y2="1529.9" stroke="#000" stroke-width="2.2"/>
<text transform="translate(779.40,1598.70) rotate(-90) translate(0.00,0) scale(1.3864,1)" font-size="19.71" font-weight="normal" fill="#1a1a1a">2010</text>
<line x1="989.60" y1="1522.4" x2="989.60" y2="1529.9" stroke="#000" stroke-width="2.2"/>
<text transform="translate(1003.80,1598.70) rotate(-90) translate(0.00,0) scale(1.3864,1)" font-size="19.71" font-weight="normal" fill="#1a1a1a">2014</text>
<line x1="1045.70" y1="1522.4" x2="1045.70" y2="1529.9" stroke="#000" stroke-width="2.2"/>
<text transform="translate(1059.90,1598.70) rotate(-90) translate(0.00,0) scale(1.3864,1)" font-size="19.71" font-weight="normal" fill="#1a1a1a">2015</text>
<line x1="1101.80" y1="1522.4" x2="1101.80" y2="1529.9" stroke="#000" stroke-width="2.2"/>
<text transform="translate(1116.00,1598.70) rotate(-90) translate(0.00,0) scale(1.3864,1)" font-size="19.71" font-weight="normal" fill="#1a1a1a">2016</text>
<line x1="1157.90" y1="1522.4" x2="1157.90" y2="1529.9" stroke="#000" stroke-width="2.2"/>
<text transform="translate(1172.10,1598.70) rotate(-90) translate(0.00,0) scale(1.3864,1)" font-size="19.71" font-weight="normal" fill="#1a1a1a">2017</text>
<line x1="1214.00" y1="1522.4" x2="1214.00" y2="1529.9" stroke="#000" stroke-width="2.2"/>
<text transform="translate(1228.20,1598.70) rotate(-90) translate(0.00,0) scale(1.3864,1)" font-size="19.71" font-weight="normal" fill="#1a1a1a">2018</text>
<line x1="1270.10" y1="1522.4" x2="1270.10" y2="1529.9" stroke="#000" stroke-width="2.2"/>
<text transform="translate(1284.30,1598.70) rotate(-90) translate(0.00,0) scale(1.3864,1)" font-size="19.71" font-weight="normal" fill="#1a1a1a">2019</text>
<line x1="1326.20" y1="1522.4" x2="1326.20" y2="1529.9" stroke="#000" stroke-width="2.2"/>
<text transform="translate(1340.40,1598.70) rotate(-90) translate(0.00,0) scale(1.3864,1)" font-size="19.71" font-weight="normal" fill="#1a1a1a">2020</text>
<line x1="1382.30" y1="1522.4" x2="1382.30" y2="1529.9" stroke="#000" stroke-width="2.2"/>
<text transform="translate(1396.50,1598.70) rotate(-90) translate(0.00,0) scale(1.3864,1)" font-size="19.71" font-weight="normal" fill="#1a1a1a">2021</text>
<line x1="1438.40" y1="1522.4" x2="1438.40" y2="1529.9" stroke="#000" stroke-width="2.2"/>
<text transform="translate(1452.60,1598.70) rotate(-90) translate(0.00,0) scale(1.3864,1)" font-size="19.71" font-weight="normal" fill="#1a1a1a">2022</text>
<line x1="1494.50" y1="1522.4" x2="1494.50" y2="1529.9" stroke="#000" stroke-width="2.2"/>
<text transform="translate(1508.70,1598.70) rotate(-90) translate(0.00,0) scale(1.3864,1)" font-size="19.71" font-weight="normal" fill="#1a1a1a">2023</text>
<text transform="translate(235.40,876.80) scale(0.9579,1)" font-size="45.22" font-weight="bold" fill="#3a3a3a" >Country</text>
<rect x="238" y="935.80" width="33.8" height="6.4" fill="#DE7065"/>
<text x="313.2" y="949.40" font-size="30.23" fill="#333" transform="translate(313.2,0) scale(0.962,1) translate(-313.2,0)">AUSTRALIA</text>
<rect x="238" y="978.10" width="33.8" height="6.4" fill="#C88A1E"/>
<text x="313.2" y="991.70" font-size="30.23" fill="#333" transform="translate(313.2,0) scale(0.962,1) translate(-313.2,0)">CANADA</text>
<rect x="238" y="1020.40" width="33.8" height="6.4" fill="#A0A024"/>
<text x="313.2" y="1034.00" font-size="30.23" fill="#333" transform="translate(313.2,0) scale(0.962,1) translate(-313.2,0)">CHINA</text>
<rect x="238" y="1062.70" width="33.8" height="6.4" fill="#5BAA2A"/>
<text x="313.2" y="1076.30" font-size="30.23" fill="#333" transform="translate(313.2,0) scale(0.962,1) translate(-313.2,0)">GERMANY</text>
<rect x="238" y="1105.00" width="33.8" height="6.4" fill="#5BAF78"/>
<text x="313.2" y="1118.60" font-size="30.23" fill="#333" transform="translate(313.2,0) scale(0.962,1) translate(-313.2,0)">ITALY</text>
<rect x="238" y="1147.30" width="33.8" height="6.4" fill="#5AB3B5"/>
<text x="313.2" y="1160.90" font-size="30.23" fill="#333" transform="translate(313.2,0) scale(0.962,1) translate(-313.2,0)">JAPAN</text>
<rect x="238" y="1189.60" width="33.8" height="6.4" fill="#4DA3E8"/>
<text x="313.2" y="1203.20" font-size="30.23" fill="#333" transform="translate(313.2,0) scale(0.962,1) translate(-313.2,0)">KOREA</text>
<rect x="238" y="1231.90" width="33.8" height="6.4" fill="#8A87F0"/>
<text x="313.2" y="1245.50" font-size="30.23" fill="#333" transform="translate(313.2,0) scale(0.962,1) translate(-313.2,0)">NETHERLANDS</text>
<rect x="238" y="1274.20" width="33.8" height="6.4" fill="#C862E8"/>
<text x="313.2" y="1287.80" font-size="30.23" fill="#333" transform="translate(313.2,0) scale(0.962,1) translate(-313.2,0)">UNITED KINGDOM</text>
<rect x="238" y="1316.50" width="33.8" height="6.4" fill="#D65BAE"/>
<text x="313.2" y="1330.10" font-size="30.23" fill="#333" transform="translate(313.2,0) scale(0.962,1) translate(-313.2,0)">USA</text>
<text transform="translate(19.20,873.90) scale(0.9117,1)" font-size="33.77" font-weight="normal" fill="#000" >(B)</text>
<text transform="translate(85.80,1244.60) rotate(-90) translate(0.00,0) scale(1.3875,1)" font-size="27.97" font-weight="normal" fill="#333">Articles</text>
<text transform="translate(1549.30,1636.50) scale(0.6141,1)" font-size="42.32" font-weight="normal" fill="#333" >Year</text>
<line x1="125.0" y1="2249.68" x2="1606.7" y2="2249.68" stroke="#EBEBEB" stroke-width="2"/>
<line x1="125.0" y1="2166.05" x2="1606.7" y2="2166.05" stroke="#EBEBEB" stroke-width="2"/>
<line x1="125.0" y1="2082.43" x2="1606.7" y2="2082.43" stroke="#EBEBEB" stroke-width="2"/>
<line x1="125.0" y1="1998.80" x2="1606.7" y2="1998.80" stroke="#EBEBEB" stroke-width="2"/>
<line x1="125.0" y1="1915.18" x2="1606.7" y2="1915.18" stroke="#EBEBEB" stroke-width="2"/>
<line x1="125.0" y1="1831.55" x2="1606.7" y2="1831.55" stroke="#EBEBEB" stroke-width="2"/>
<line x1="125.0" y1="1747.93" x2="1606.7" y2="1747.93" stroke="#EBEBEB" stroke-width="2"/>
<line x1="192.50" y1="1683.5" x2="192.50" y2="2363.6" stroke="#EBEBEB" stroke-width="1.8"/>
<line x1="303.50" y1="1683.5" x2="303.50" y2="2363.6" stroke="#EBEBEB" stroke-width="1.8"/>
<line x1="359.00" y1="1683.5" x2="359.00" y2="2363.6" stroke="#EBEBEB" stroke-width="1.8"/>
<line x1="414.50" y1="1683.5" x2="414.50" y2="2363.6" stroke="#EBEBEB" stroke-width="1.8"/>
<line x1="470.00" y1="1683.5" x2="470.00" y2="2363.6" stroke="#EBEBEB" stroke-width="1.8"/>
<line x1="525.50" y1="1683.5" x2="525.50" y2="2363.6" stroke="#EBEBEB" stroke-width="1.8"/>
<line x1="581.00" y1="1683.5" x2="581.00" y2="2363.6" stroke="#EBEBEB" stroke-width="1.8"/>
<line x1="636.50" y1="1683.5" x2="636.50" y2="2363.6" stroke="#EBEBEB" stroke-width="1.8"/>
<line x1="692.00" y1="1683.5" x2="692.00" y2="2363.6" stroke="#EBEBEB" stroke-width="1.8"/>
<line x1="747.50" y1="1683.5" x2="747.50" y2="2363.6" stroke="#EBEBEB" stroke-width="1.8"/>
<line x1="803.00" y1="1683.5" x2="803.00" y2="2363.6" stroke="#EBEBEB" stroke-width="1.8"/>
<line x1="858.50" y1="1683.5" x2="858.50" y2="2363.6" stroke="#EBEBEB" stroke-width="1.8"/>
<line x1="914.00" y1="1683.5" x2="914.00" y2="2363.6" stroke="#EBEBEB" stroke-width="1.8"/>
<line x1="969.50" y1="1683.5" x2="969.50" y2="2363.6" stroke="#EBEBEB" stroke-width="1.8"/>
<line x1="1025.00" y1="1683.5" x2="1025.00" y2="2363.6" stroke="#EBEBEB" stroke-width="1.8"/>
<line x1="1080.50" y1="1683.5" x2="1080.50" y2="2363.6" stroke="#EBEBEB" stroke-width="1.8"/>
<line x1="1136.00" y1="1683.5" x2="1136.00" y2="2363.6" stroke="#EBEBEB" stroke-width="1.8"/>
<line x1="1191.50" y1="1683.5" x2="1191.50" y2="2363.6" stroke="#EBEBEB" stroke-width="1.8"/>
<line x1="1247.00" y1="1683.5" x2="1247.00" y2="2363.6" stroke="#EBEBEB" stroke-width="1.8"/>
<line x1="1302.50" y1="1683.5" x2="1302.50" y2="2363.6" stroke="#EBEBEB" stroke-width="1.8"/>
<line x1="1358.00" y1="1683.5" x2="1358.00" y2="2363.6" stroke="#EBEBEB" stroke-width="1.8"/>
<line x1="1413.50" y1="1683.5" x2="1413.50" y2="2363.6" stroke="#EBEBEB" stroke-width="1.8"/>
<line x1="1469.00" y1="1683.5" x2="1469.00" y2="2363.6" stroke="#EBEBEB" stroke-width="1.8"/>
<line x1="664.25" y1="1683.5" x2="664.25" y2="2363.6" stroke="#EBEBEB" stroke-width="1.8"/>
<line x1="719.75" y1="1683.5" x2="719.75" y2="2363.6" stroke="#EBEBEB" stroke-width="1.8"/>
<line x1="775.25" y1="1683.5" x2="775.25" y2="2363.6" stroke="#EBEBEB" stroke-width="1.8"/>
<line x1="830.75" y1="1683.5" x2="830.75" y2="2363.6" stroke="#EBEBEB" stroke-width="1.8"/>
<line x1="886.25" y1="1683.5" x2="886.25" y2="2363.6" stroke="#EBEBEB" stroke-width="1.8"/>
<line x1="941.75" y1="1683.5" x2="941.75" y2="2363.6" stroke="#EBEBEB" stroke-width="1.8"/>
<line x1="997.25" y1="1683.5" x2="997.25" y2="2363.6" stroke="#EBEBEB" stroke-width="1.8"/>
<line x1="1052.75" y1="1683.5" x2="1052.75" y2="2363.6" stroke="#EBEBEB" stroke-width="1.8"/>
<line x1="1108.25" y1="1683.5" x2="1108.25" y2="2363.6" stroke="#EBEBEB" stroke-width="1.8"/>
<rect x="159.5" y="1682.5" width="903.5" height="433.0999999999999" fill="#fff"/>
<line x1="125.0" y1="2333.30" x2="1606.7" y2="2333.30" stroke="#D6D6D6" stroke-width="2.4"/>
<polyline points="192.50,2333.30 303.50,2333.30 359.00,2333.30 414.50,2333.30 470.00,2333.30 525.50,2333.30 581.00,2333.30 636.50,2333.30 692.00,2333.30 747.50,2333.30 803.00,2333.30 858.50,2333.30 914.00,2333.30 969.50,2333.30 1025.00,2333.30 1080.50,2333.30 1136.00,2333.30 1191.50,2333.30 1247.00,2333.30 1302.50,2322.15 1358.00,2283.12 1413.50,2249.68 1469.00,2227.38 1524.50,2177.20 1580.00,2177.20" fill="none" stroke="#DE7065" stroke-width="2.3" stroke-linejoin="round" />
<polyline points="192.50,2333.30 303.50,2333.30 359.00,2333.30 414.50,2333.30 470.00,2333.30 525.50,2333.30 581.00,2333.30 636.50,2333.30 692.00,2333.30 747.50,2333.30 803.00,2333.30 858.50,2322.15 914.00,2283.12 969.50,2260.83 1025.00,2244.10 1080.50,2244.10 1136.00,2227.38 1191.50,2199.50 1247.00,2171.62 1302.50,2121.45 1358.00,1948.63 1413.50,1848.28 1469.00,1809.25 1524.50,1759.08 1580.00,1714.48" fill="none" stroke="#C88A1E" stroke-width="2.3" stroke-linejoin="round" />
<polyline points="192.50,2333.30 303.50,2333.30 359.00,2333.30 414.50,2333.30 470.00,2333.30 525.50,2333.30 581.00,2333.30 636.50,2333.30 692.00,2333.30 747.50,2333.30 803.00,2333.30 858.50,2333.30 914.00,2333.30 969.50,2333.30 1025.00,2327.73 1080.50,2327.73 1136.00,2294.28 1191.50,2294.28 1247.00,2277.55 1302.50,2188.35 1358.00,2188.35 1413.50,2154.90 1469.00,2138.18 1524.50,2099.15 1580.00,2099.15" fill="none" stroke="#A0A024" stroke-width="2.3" stroke-linejoin="round" />
<polyline points="192.50,2333.30 303.50,2333.30 359.00,2333.30 414.50,2333.30 470.00,2333.30 525.50,2333.30 581.00,2333.30 636.50,2333.30 692.00,2327.73 747.50,2322.15 803.00,2316.58 858.50,2311.00 914.00,2305.43 969.50,2305.43 1025.00,2299.85 1080.50,2277.55 1136.00,2277.55 1191.50,2277.55 1247.00,2266.40 1302.50,2266.40 1358.00,2260.83 1413.50,2221.80 1469.00,2221.80 1524.50,2154.90 1580.00,2154.90" fill="none" stroke="#5BAA2A" stroke-width="2.3" stroke-linejoin="round" />
<polyline points="192.50,2333.30 303.50,2333.30 359.00,2333.30 414.50,2333.30 470.00,2333.30 525.50,2333.30 581.00,2333.30 636.50,2333.30 692.00,2333.30 747.50,2327.73 803.00,2327.73 858.50,2327.73 914.00,2316.58 969.50,2316.58 1025.00,2288.70 1080.50,2288.70 1136.00,2277.55 1191.50,2255.25 1247.00,2255.25 1302.50,2227.38 1358.00,2205.08 1413.50,2171.62 1469.00,2127.03 1524.50,2076.85 1580.00,2076.85" fill="none" stroke="#5BAF78" stroke-width="2.3" stroke-linejoin="round" />
<polyline points="192.50,2333.30 303.50,2333.30 359.00,2333.30 414.50,2333.30 470.00,2333.30 525.50,2333.30 581.00,2333.30 636.50,2333.30 692.00,2333.30 747.50,2333.30 803.00,2333.30 858.50,2322.15 914.00,2288.70 969.50,2266.40 1025.00,2249.68 1080.50,2249.68 1136.00,2232.95 1191.50,2205.08 1247.00,2177.20 1302.50,2127.03 1358.00,1954.20 1413.50,1853.85 1469.00,1820.40 1524.50,1770.23 1580.00,1725.62" fill="none" stroke="#5AB3B5" stroke-width="2.3" stroke-linejoin="round" />
<polyline points="192.50,2333.30 303.50,2333.30 359.00,2333.30 414.50,2333.30 470.00,2333.30 525.50,2333.30 581.00,2333.30 636.50,2333.30 692.00,2333.30 747.50,2333.30 803.00,2333.30 858.50,2333.30 914.00,2333.30 969.50,2333.30 1025.00,2333.30 1080.50,2305.43 1136.00,2271.98 1191.50,2238.53 1247.00,2216.23 1302.50,2199.50 1358.00,2171.62 1413.50,2115.88 1469.00,2026.68 1524.50,1948.63 1580.00,1943.05" fill="none" stroke="#4DA3E8" stroke-width="2.3" stroke-linejoin="round" />
<polyline points="192.50,2333.30 303.50,2333.30 359.00,2333.30 414.50,2333.30 470.00,2333.30 525.50,2305.43 581.00,2305.43 636.50,2305.43 692.00,2277.55 747.50,2249.68 803.00,2221.80 858.50,2199.50 914.00,2177.20 969.50,2177.20 1025.00,2171.62 1080.50,2127.03 1136.00,2127.03 1191.50,2127.03 1247.00,2115.88 1302.50,2115.88 1358.00,2082.43 1413.50,1987.65 1469.00,1943.05 1524.50,1786.95 1580.00,1775.80" fill="none" stroke="#8A87F0" stroke-width="2.3" stroke-linejoin="round" />
<polyline points="192.50,2333.30 303.50,2333.30 359.00,2333.30 414.50,2333.30 470.00,2333.30 525.50,2333.30 581.00,2333.30 636.50,2333.30 692.00,2333.30 747.50,2333.30 803.00,2333.30 858.50,2327.73 914.00,2322.15 969.50,2322.15 1025.00,2305.43 1080.50,2305.43 1136.00,2283.12 1191.50,2249.68 1247.00,2227.38 1302.50,2216.23 1358.00,2193.93 1413.50,2143.75 1469.00,2110.30 1524.50,2037.83 1580.00,2032.25" fill="none" stroke="#C862E8" stroke-width="2.3" stroke-linejoin="round" />
<polyline points="192.50,2333.30 303.50,2333.30 359.00,2333.30 414.50,2333.30 470.00,2333.30 525.50,2333.30 581.00,2333.30 636.50,2333.30 692.00,2333.30 747.50,2333.30 803.00,2333.30 858.50,2333.30 914.00,2277.55 969.50,2277.55 1025.00,2277.55 1080.50,2277.55 1136.00,2277.55 1191.50,2277.55 1247.00,2249.68 1302.50,2221.80 1358.00,2221.80 1413.50,2193.93 1469.00,2193.93 1524.50,2127.03 1580.00,2127.03" fill="none" stroke="#D65BAE" stroke-width="2.3" stroke-linejoin="round" />
<line x1="123.0" y1="1683.5" x2="123.0" y2="2365.9" stroke="#000" stroke-width="2.3"/>
<line x1="121.9" y1="2364.6" x2="1606.7" y2="2364.6" stroke="#000" stroke-width="2.6"/>
<line x1="118.0" y1="2333.30" x2="123.0" y2="2333.30" stroke="#000" stroke-width="2.2"/>
<text transform="translate(104.60,2342.15) scale(0.6041,1)" font-size="25.65" font-weight="normal" fill="#1a1a1a" >0</text>
<line x1="118.0" y1="2166.05" x2="123.0" y2="2166.05" stroke="#000" stroke-width="2.2"/>
<text transform="translate(96.00,2174.90) scale(0.6041,1)" font-size="25.65" font-weight="normal" fill="#1a1a1a" >30</text>
<line x1="118.0" y1="1998.80" x2="123.0" y2="1998.80" stroke="#000" stroke-width="2.2"/>
<text transform="translate(96.00,2007.65) scale(0.6041,1)" font-size="25.65" font-weight="normal" fill="#1a1a1a" >60</text>
<line x1="118.0" y1="1831.55" x2="123.0" y2="1831.55" stroke="#000" stroke-width="2.2"/>
<text transform="translate(96.00,1840.40) scale(0.6041,1)" font-size="25.65" font-weight="normal" fill="#1a1a1a" >90</text>
<line x1="192.50" y1="2364.6" x2="192.50" y2="2372.1" stroke="#000" stroke-width="2.2"/>
<text transform="translate(206.30,2440.30) rotate(-90) translate(0.00,0) scale(1.3944,1)" font-size="19.57" font-weight="normal" fill="#1a1a1a">2000</text>
<line x1="303.50" y1="2364.6" x2="303.50" y2="2372.1" stroke="#000" stroke-width="2.2"/>
<text transform="translate(317.30,2440.30) rotate(-90) translate(0.00,0) scale(1.3944,1)" font-size="19.57" font-weight="normal" fill="#1a1a1a">2002</text>
<line x1="359.00" y1="2364.6" x2="359.00" y2="2372.1" stroke="#000" stroke-width="2.2"/>
<text transform="translate(372.80,2440.30) rotate(-90) translate(0.00,0) scale(1.3944,1)" font-size="19.57" font-weight="normal" fill="#1a1a1a">2003</text>
<line x1="414.50" y1="2364.6" x2="414.50" y2="2372.1" stroke="#000" stroke-width="2.2"/>
<text transform="translate(428.30,2440.30) rotate(-90) translate(0.00,0) scale(1.3944,1)" font-size="19.57" font-weight="normal" fill="#1a1a1a">2004</text>
<line x1="470.00" y1="2364.6" x2="470.00" y2="2372.1" stroke="#000" stroke-width="2.2"/>
<text transform="translate(483.80,2440.30) rotate(-90) translate(0.00,0) scale(1.3944,1)" font-size="19.57" font-weight="normal" fill="#1a1a1a">2005</text>
<line x1="525.50" y1="2364.6" x2="525.50" y2="2372.1" stroke="#000" stroke-width="2.2"/>
<text transform="translate(539.30,2440.30) rotate(-90) translate(0.00,0) scale(1.3944,1)" font-size="19.57" font-weight="normal" fill="#1a1a1a">2006</text>
<line x1="581.00" y1="2364.6" x2="581.00" y2="2372.1" stroke="#000" stroke-width="2.2"/>
<text transform="translate(594.80,2440.30) rotate(-90) translate(0.00,0) scale(1.3944,1)" font-size="19.57" font-weight="normal" fill="#1a1a1a">2007</text>
<line x1="636.50" y1="2364.6" x2="636.50" y2="2372.1" stroke="#000" stroke-width="2.2"/>
<text transform="translate(650.30,2440.30) rotate(-90) translate(0.00,0) scale(1.3944,1)" font-size="19.57" font-weight="normal" fill="#1a1a1a">2008</text>
<line x1="692.00" y1="2364.6" x2="692.00" y2="2372.1" stroke="#000" stroke-width="2.2"/>
<text transform="translate(705.80,2440.30) rotate(-90) translate(0.00,0) scale(1.3944,1)" font-size="19.57" font-weight="normal" fill="#1a1a1a">2009</text>
<line x1="747.50" y1="2364.6" x2="747.50" y2="2372.1" stroke="#000" stroke-width="2.2"/>
<text transform="translate(761.30,2440.30) rotate(-90) translate(0.00,0) scale(1.3944,1)" font-size="19.57" font-weight="normal" fill="#1a1a1a">2010</text>
<line x1="969.50" y1="2364.6" x2="969.50" y2="2372.1" stroke="#000" stroke-width="2.2"/>
<text transform="translate(983.30,2440.30) rotate(-90) translate(0.00,0) scale(1.3944,1)" font-size="19.57" font-weight="normal" fill="#1a1a1a">2014</text>
<line x1="1025.00" y1="2364.6" x2="1025.00" y2="2372.1" stroke="#000" stroke-width="2.2"/>
<text transform="translate(1038.80,2440.30) rotate(-90) translate(0.00,0) scale(1.3944,1)" font-size="19.57" font-weight="normal" fill="#1a1a1a">2015</text>
<line x1="1080.50" y1="2364.6" x2="1080.50" y2="2372.1" stroke="#000" stroke-width="2.2"/>
<text transform="translate(1094.30,2440.30) rotate(-90) translate(0.00,0) scale(1.3944,1)" font-size="19.57" font-weight="normal" fill="#1a1a1a">2016</text>
<line x1="1136.00" y1="2364.6" x2="1136.00" y2="2372.1" stroke="#000" stroke-width="2.2"/>
<text transform="translate(1149.80,2440.30) rotate(-90) translate(0.00,0) scale(1.3944,1)" font-size="19.57" font-weight="normal" fill="#1a1a1a">2017</text>
<line x1="1191.50" y1="2364.6" x2="1191.50" y2="2372.1" stroke="#000" stroke-width="2.2"/>
<text transform="translate(1205.30,2440.30) rotate(-90) translate(0.00,0) scale(1.3944,1)" font-size="19.57" font-weight="normal" fill="#1a1a1a">2018</text>
<line x1="1247.00" y1="2364.6" x2="1247.00" y2="2372.1" stroke="#000" stroke-width="2.2"/>
<text transform="translate(1260.80,2440.30) rotate(-90) translate(0.00,0) scale(1.3944,1)" font-size="19.57" font-weight="normal" fill="#1a1a1a">2019</text>
<line x1="1302.50" y1="2364.6" x2="1302.50" y2="2372.1" stroke="#000" stroke-width="2.2"/>
<text transform="translate(1316.30,2440.30) rotate(-90) translate(0.00,0) scale(1.3944,1)" font-size="19.57" font-weight="normal" fill="#1a1a1a">2020</text>
<line x1="1358.00" y1="2364.6" x2="1358.00" y2="2372.1" stroke="#000" stroke-width="2.2"/>
<text transform="translate(1371.80,2440.30) rotate(-90) translate(0.00,0) scale(1.3944,1)" font-size="19.57" font-weight="normal" fill="#1a1a1a">2021</text>
<line x1="1413.50" y1="2364.6" x2="1413.50" y2="2372.1" stroke="#000" stroke-width="2.2"/>
<text transform="translate(1427.30,2440.30) rotate(-90) translate(0.00,0) scale(1.3944,1)" font-size="19.57" font-weight="normal" fill="#1a1a1a">2022</text>
<line x1="1469.00" y1="2364.6" x2="1469.00" y2="2372.1" stroke="#000" stroke-width="2.2"/>
<text transform="translate(1482.80,2440.30) rotate(-90) translate(0.00,0) scale(1.3944,1)" font-size="19.57" font-weight="normal" fill="#1a1a1a">2023</text>
<text transform="translate(184.40,1709.50) scale(0.9633,1)" font-size="31.59" font-weight="bold" fill="#3a3a3a" >Affiliation</text>
<rect x="186.2" y="1750.30" width="23.6" height="5" fill="#DE7065"/>
<text x="239.3" y="1760.40" font-size="21.66" fill="#333" transform="translate(239.3,0) scale(0.952,1) translate(-239.3,0)">NORTHWESTERN UNIVERSITY</text>
<rect x="186.2" y="1780.10" width="23.6" height="5" fill="#C88A1E"/>
<text x="239.3" y="1790.20" font-size="21.66" fill="#333" transform="translate(239.3,0) scale(0.952,1) translate(-239.3,0)">PENNSYLVANIA COMMONWEALTH SYSTEM OF HIGHER EDUCATION (PCSHE)</text>
<rect x="186.2" y="1809.90" width="23.6" height="5" fill="#A0A024"/>
<text x="239.3" y="1820.00" font-size="21.66" fill="#333" transform="translate(239.3,0) scale(0.952,1) translate(-239.3,0)">SEOUL NATIONAL UNIVERSITY (SNU)</text>
<rect x="186.2" y="1839.70" width="23.6" height="5" fill="#5BAA2A"/>
<text x="239.3" y="1849.80" font-size="21.66" fill="#333" transform="translate(239.3,0) scale(0.952,1) translate(-239.3,0)">UNIVERSITY HEALTH NETWORK TORONTO</text>
<rect x="186.2" y="1869.50" width="23.6" height="5" fill="#5BAF78"/>
<text x="239.3" y="1879.60" font-size="21.66" fill="#333" transform="translate(239.3,0) scale(0.952,1) translate(-239.3,0)">UNIVERSITY OF CALIFORNIA SYSTEM</text>
<rect x="186.2" y="1899.30" width="23.6" height="5" fill="#5AB3B5"/>
<text x="239.3" y="1909.40" font-size="21.66" fill="#333" transform="translate(239.3,0) scale(0.952,1) translate(-239.3,0)">UNIVERSITY OF PITTSBURGH</text>
<rect x="186.2" y="1929.10" width="23.6" height="5" fill="#4DA3E8"/>
<text x="239.3" y="1939.20" font-size="21.66" fill="#333" transform="translate(239.3,0) scale(0.952,1) translate(-239.3,0)">UNIVERSITY OF TEXAS SYSTEM</text>
<rect x="186.2" y="1958.90" width="23.6" height="5" fill="#8A87F0"/>
<text x="239.3" y="1969.00" font-size="21.66" fill="#333" transform="translate(239.3,0) scale(0.952,1) translate(-239.3,0)">UNIVERSITY OF TORONTO</text>
<rect x="186.2" y="1988.70" width="23.6" height="5" fill="#C862E8"/>
<text x="239.3" y="1998.80" font-size="21.66" fill="#333" transform="translate(239.3,0) scale(0.952,1) translate(-239.3,0)">UTMD ANDERSON CANCER CENTER</text>
<rect x="186.2" y="2018.50" width="23.6" height="5" fill="#D65BAE"/>
<text x="239.3" y="2028.60" font-size="21.66" fill="#333" transform="translate(239.3,0) scale(0.952,1) translate(-239.3,0)">WESTERN UNIVERSITY (UNIVERSITY OF WESTERN ONTARIO)</text>
<text transform="translate(19.40,1700.90) scale(0.9136,1)" font-size="33.62" font-weight="normal" fill="#000" >(C)</text>
<text transform="translate(84.90,2087.80) rotate(-90) translate(0.00,0) scale(1.4409,1)" font-size="26.96" font-weight="normal" fill="#333">Articles</text>
<text transform="translate(1524.10,2477.50) scale(0.6228,1)" font-size="41.01" font-weight="normal" fill="#333" >Year</text>
<defs><linearGradient id="lg1" gradientUnits="userSpaceOnUse" x1="0" y1="594.8" x2="0" y2="671.6"><stop offset="0" stop-color="#2F3DAF"/><stop offset="0.45" stop-color="#3F73D8"/><stop offset="1" stop-color="#5FCDF6"/></linearGradient></defs>
<polygon points="1516.15,594.80 1545.30,613.86 1545.30,652.26 1516.15,671.60 1487.00,652.26 1487.00,613.86" fill="url(#lg1)"/>
<polygon points="1516.15,598.15 1542.59,615.41 1542.59,650.70 1516.15,668.25 1489.71,650.70 1489.71,615.41" fill="#fff" fill-opacity="0.93"/>
<polygon points="1516.15,602.88 1538.66,617.61 1493.64,617.61" fill="url(#lg1)" fill-opacity="0.9"/>
<polygon points="1493.06,632.05 1538.95,632.05 1538.95,648.50 1516.15,663.52 1493.06,648.50" fill="url(#lg1)" fill-opacity="0.9"/>
<polygon points="1514.42,611.26 1517.88,611.26 1519.61,613.86 1520.77,616.45 1520.77,619.63 1511.53,619.63 1511.53,616.45 1512.69,613.86" fill="#fff"/>
<polygon points="1509.80,628.87 1522.21,628.87 1527.69,632.91 1530.58,654.28 1510.38,659.47 1508.93,651.39 1509.80,636.95 1508.07,631.18" fill="#fff"/>
<polygon points="1510.38,640.42 1527.12,635.80 1527.41,639.55 1510.38,644.46" fill="url(#lg1)"/>
<polygon points="1509.80,648.50 1527.69,643.88 1527.98,647.92 1509.80,652.83" fill="url(#lg1)"/>
<polygon points="1517.88,653.70 1527.69,651.39 1527.69,654.28 1517.88,656.59" fill="url(#lg1)" fill-opacity="0.8"/>
<text x="1516.15" y="628.00" font-size="9.22" font-weight="bold" fill="#3452C2" text-anchor="middle" textLength="51.37" lengthAdjust="spacingAndGlyphs">BIBLIOMETRIX</text>
<defs><linearGradient id="lg2" gradientUnits="userSpaceOnUse" x1="0" y1="1405.4" x2="0" y2="1484.7"><stop offset="0" stop-color="#2F3DAF"/><stop offset="0.45" stop-color="#3F73D8"/><stop offset="1" stop-color="#5FCDF6"/></linearGradient></defs>
<polygon points="1556.15,1405.40 1579.00,1425.08 1579.00,1464.73 1556.15,1484.70 1533.30,1464.73 1533.30,1425.08" fill="url(#lg2)"/>
<polygon points="1556.15,1408.86 1576.87,1426.69 1576.87,1463.12 1556.15,1481.24 1535.43,1463.12 1535.43,1426.69" fill="#fff" fill-opacity="0.93"/>
<polygon points="1556.15,1413.75 1573.80,1428.95 1538.50,1428.95" fill="url(#lg2)" fill-opacity="0.9"/>
<polygon points="1538.05,1443.86 1574.02,1443.86 1574.02,1460.85 1556.15,1476.35 1538.05,1460.85" fill="url(#lg2)" fill-opacity="0.9"/>
<polygon points="1554.79,1422.39 1557.51,1422.39 1558.86,1425.08 1559.77,1427.76 1559.77,1431.04 1552.53,1431.04 1552.53,1427.76 1553.44,1425.08" fill="#fff"/>
<polygon points="1551.17,1440.58 1560.90,1440.58 1565.20,1444.75 1567.46,1466.81 1551.63,1472.18 1550.49,1463.83 1551.17,1448.93 1549.82,1442.96" fill="#fff"/>
<polygon points="1551.63,1452.50 1564.75,1447.73 1564.97,1451.61 1551.63,1456.68" fill="url(#lg2)"/>
<polygon points="1551.17,1460.85 1565.20,1456.08 1565.43,1460.25 1551.17,1465.32" fill="url(#lg2)"/>
<polygon points="1557.51,1466.22 1565.20,1463.83 1565.20,1466.81 1557.51,1469.20" fill="url(#lg2)" fill-opacity="0.8"/>
<text x="1556.15" y="1439.68" font-size="9.52" font-weight="bold" fill="#3452C2" text-anchor="middle" textLength="40.27" lengthAdjust="spacingAndGlyphs">BIBLIOMETRIX</text>
<defs><linearGradient id="lg3" gradientUnits="userSpaceOnUse" x1="0" y1="2247.8" x2="0" y2="2326.8"><stop offset="0" stop-color="#2F3DAF"/><stop offset="0.45" stop-color="#3F73D8"/><stop offset="1" stop-color="#5FCDF6"/></linearGradient></defs>
<polygon points="1530.45,2247.80 1552.90,2267.40 1552.90,2306.90 1530.45,2326.80 1508.00,2306.90 1508.00,2267.40" fill="url(#lg3)"/>
<polygon points="1530.45,2251.25 1550.81,2269.01 1550.81,2305.30 1530.45,2323.35 1510.09,2305.30 1510.09,2269.01" fill="#fff" fill-opacity="0.93"/>
<polygon points="1530.45,2256.12 1547.79,2271.26 1513.11,2271.26" fill="url(#lg3)" fill-opacity="0.9"/>
<polygon points="1512.67,2286.11 1548.01,2286.11 1548.01,2303.04 1530.45,2318.48 1512.67,2303.04" fill="url(#lg3)" fill-opacity="0.9"/>
<polygon points="1529.12,2264.73 1531.78,2264.73 1533.12,2267.40 1534.01,2270.07 1534.01,2273.34 1526.89,2273.34 1526.89,2270.07 1527.78,2267.40" fill="#fff"/>
<polygon points="1525.56,2282.85 1535.12,2282.85 1539.34,2287.00 1541.56,2308.98 1526.00,2314.33 1524.89,2306.01 1525.56,2291.16 1524.23,2285.22" fill="#fff"/>
<polygon points="1526.00,2294.72 1538.90,2289.97 1539.12,2293.83 1526.00,2298.88" fill="url(#lg3)"/>
<polygon points="1525.56,2303.04 1539.34,2298.29 1539.56,2302.45 1525.56,2307.50" fill="url(#lg3)"/>
<polygon points="1531.78,2308.39 1539.34,2306.01 1539.34,2308.98 1531.78,2311.36" fill="url(#lg3)" fill-opacity="0.8"/>
<text x="1530.45" y="2281.95" font-size="9.49" font-weight="bold" fill="#3452C2" text-anchor="middle" textLength="39.57" lengthAdjust="spacingAndGlyphs">BIBLIOMETRIX</text>
</svg></body></html>
